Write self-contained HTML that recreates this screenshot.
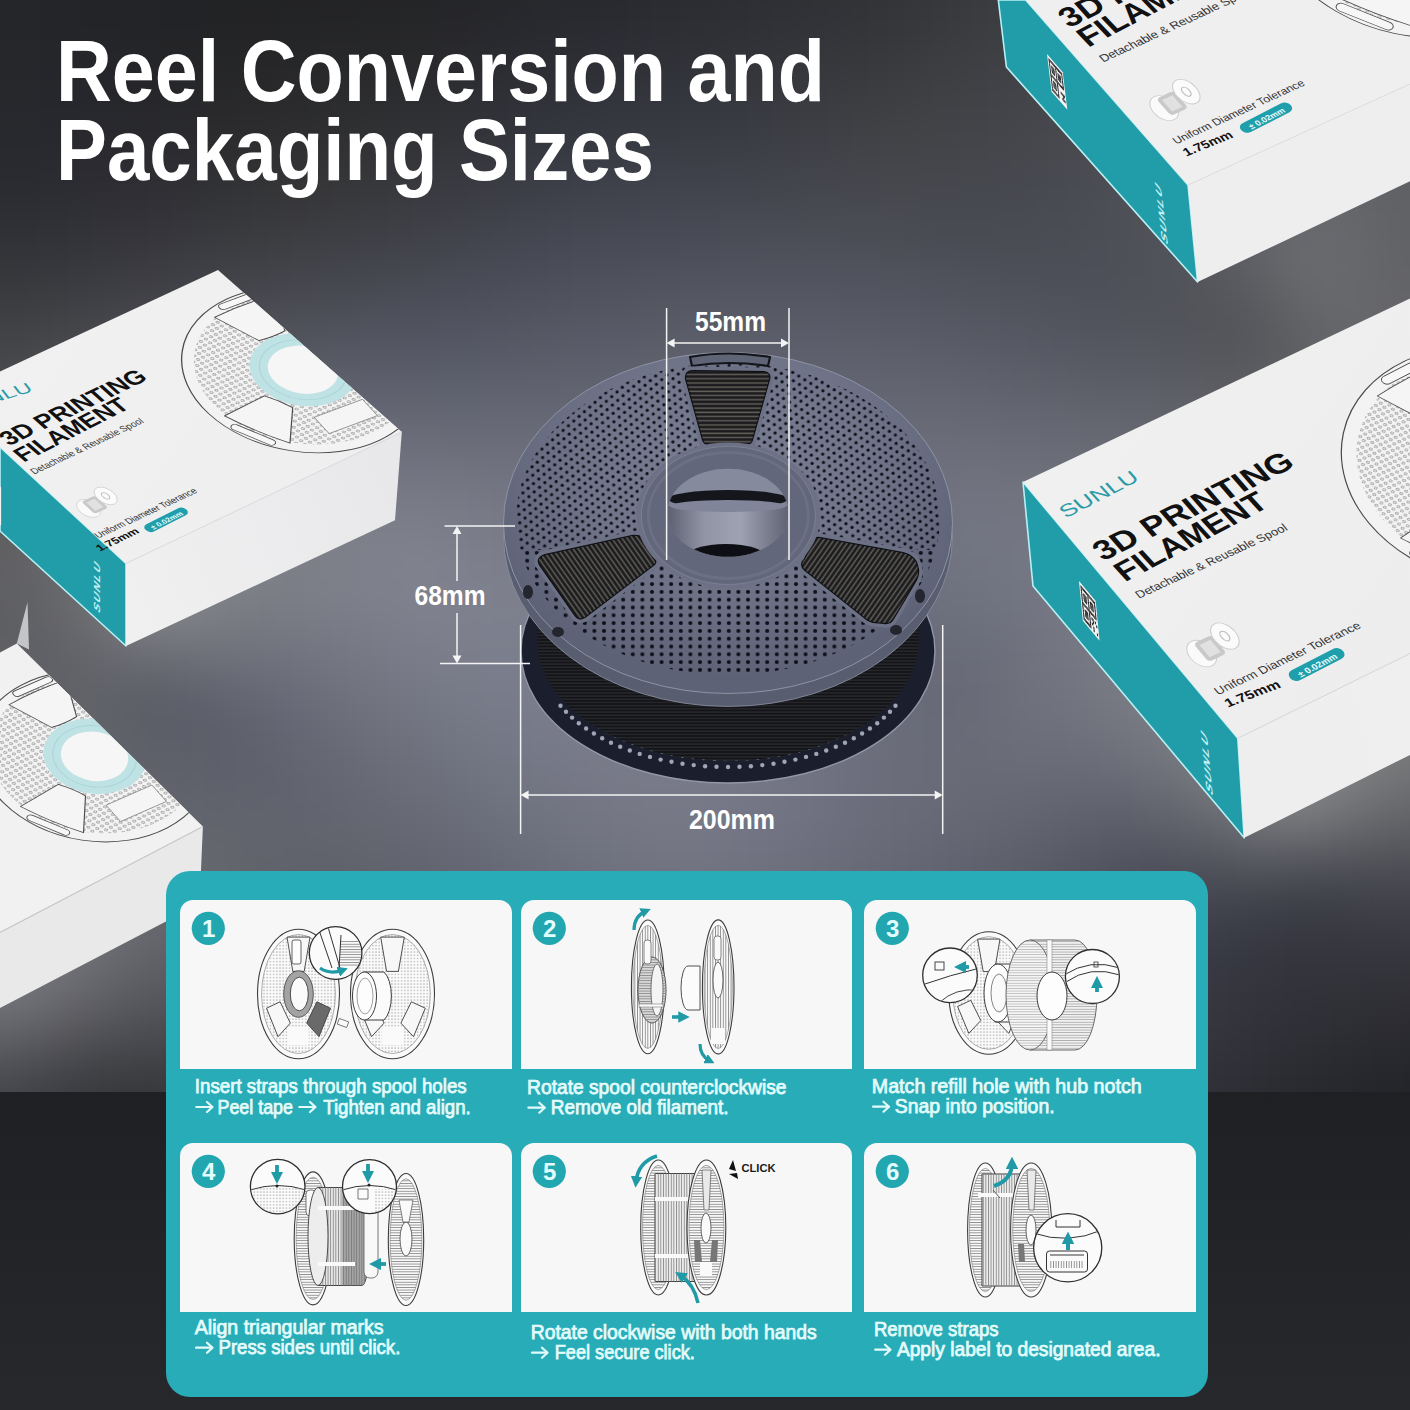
<!DOCTYPE html><html><head><meta charset="utf-8"><style>html,body{margin:0;padding:0;background:#1e2024;overflow:hidden}svg{display:block}</style></head><body>
<svg xmlns="http://www.w3.org/2000/svg" width="1410" height="1410" viewBox="0 0 1410 1410" font-family="Liberation Sans, sans-serif">
<defs>
<linearGradient id="bgv" x1="0" y1="0" x2="0" y2="1410" gradientUnits="userSpaceOnUse">
<stop offset="0" stop-color="#2a2c31"/>
<stop offset="0.12" stop-color="#303237"/>
<stop offset="0.25" stop-color="#45474e"/>
<stop offset="0.45" stop-color="#5a5d66"/>
<stop offset="0.6" stop-color="#5c5f68"/>
<stop offset="0.77" stop-color="#45474e"/>
</linearGradient>
<radialGradient id="glowc" cx="700" cy="620" r="560" gradientUnits="userSpaceOnUse">
<stop offset="0" stop-color="#72757f" stop-opacity="0.75"/>
<stop offset="1" stop-color="#72757f" stop-opacity="0"/>
</radialGradient>
<radialGradient id="darkR" cx="1410" cy="980" r="440" gradientUnits="userSpaceOnUse">
<stop offset="0" stop-color="#25272c" stop-opacity="0.85"/>
<stop offset="1" stop-color="#25272c" stop-opacity="0"/>
</radialGradient>
<radialGradient id="darkTL" cx="0" cy="0" r="750" gradientUnits="userSpaceOnUse">
<stop offset="0" stop-color="#1f2125" stop-opacity="0.6"/>
<stop offset="1" stop-color="#1f2125" stop-opacity="0"/>
</radialGradient>
<linearGradient id="topface" x1="0" y1="0" x2="1" y2="1">
<stop offset="0" stop-color="#f5f5f6"/><stop offset="1" stop-color="#ebebec"/>
</linearGradient>
<linearGradient id="frontface" x1="0" y1="0" x2="1" y2="0">
<stop offset="0" stop-color="#e8e8e9"/><stop offset="1" stop-color="#dfe0e1"/>
</linearGradient>
<pattern id="spooldots" x="0" y="0" width="11" height="9" patternUnits="userSpaceOnUse">
<circle cx="3" cy="3" r="2.1" fill="#23252e"/>
</pattern>
<pattern id="bdots" x="0" y="0" width="12" height="12" patternUnits="userSpaceOnUse">
<circle cx="4" cy="4" r="2.2" fill="#8d909c"/>
</pattern>
<pattern id="flines" x="0" y="0" width="6" height="4" patternUnits="userSpaceOnUse">
<rect width="6" height="1.5" fill="#55544f"/>
</pattern>
<pattern id="ldots" x="0" y="0" width="4" height="4" patternUnits="userSpaceOnUse">
<circle cx="2" cy="2" r="0.9" fill="#9c9c9c"/>
</pattern>
<pattern id="hatch" x="0" y="0" width="3" height="3" patternUnits="userSpaceOnUse">
<rect width="3" height="1" fill="#8c8c8c"/>
</pattern>
<pattern id="vhatch" x="0" y="0" width="3" height="3" patternUnits="userSpaceOnUse">
<rect width="1" height="3" fill="#8c8c8c"/>
</pattern>

</defs>
<defs><filter id="bgblur" filterUnits="userSpaceOnUse" x="-200" y="-200" width="1810" height="1500" color-interpolation-filters="sRGB"><feGaussianBlur stdDeviation="22"/></filter></defs>
<rect width="1410" height="1410" fill="#3a3c42"/>
<g filter="url(#bgblur)" shape-rendering="crispEdges"><rect x="-120" y="-120" width="41" height="41" fill="#232529"/><rect x="-80" y="-120" width="41" height="41" fill="#232529"/><rect x="-40" y="-120" width="41" height="41" fill="#232529"/><rect x="0" y="-120" width="41" height="41" fill="#232529"/><rect x="40" y="-120" width="41" height="41" fill="#222428"/><rect x="80" y="-120" width="41" height="41" fill="#222327"/><rect x="120" y="-120" width="41" height="41" fill="#212326"/><rect x="160" y="-120" width="41" height="41" fill="#212225"/><rect x="200" y="-120" width="41" height="41" fill="#212224"/><rect x="240" y="-120" width="41" height="41" fill="#212224"/><rect x="280" y="-120" width="41" height="41" fill="#222224"/><rect x="320" y="-120" width="41" height="41" fill="#222324"/><rect x="360" y="-120" width="41" height="41" fill="#232325"/><rect x="400" y="-120" width="41" height="41" fill="#232426"/><rect x="440" y="-120" width="41" height="41" fill="#242528"/><rect x="480" y="-120" width="41" height="41" fill="#252629"/><rect x="520" y="-120" width="41" height="41" fill="#26272b"/><rect x="560" y="-120" width="41" height="41" fill="#27282d"/><rect x="600" y="-120" width="41" height="41" fill="#28292e"/><rect x="640" y="-120" width="41" height="41" fill="#292b30"/><rect x="680" y="-120" width="41" height="41" fill="#2b2c31"/><rect x="720" y="-120" width="41" height="41" fill="#2c2d32"/><rect x="760" y="-120" width="41" height="41" fill="#2e2f33"/><rect x="800" y="-120" width="41" height="41" fill="#2f3135"/><rect x="840" y="-120" width="41" height="41" fill="#313236"/><rect x="880" y="-120" width="41" height="41" fill="#333438"/><rect x="920" y="-120" width="41" height="41" fill="#36373b"/><rect x="960" y="-120" width="41" height="41" fill="#393a3e"/><rect x="1000" y="-120" width="41" height="41" fill="#3c3d41"/><rect x="1040" y="-120" width="41" height="41" fill="#3f4045"/><rect x="1080" y="-120" width="41" height="41" fill="#434448"/><rect x="1120" y="-120" width="41" height="41" fill="#46474c"/><rect x="1160" y="-120" width="41" height="41" fill="#4a4b4f"/><rect x="1200" y="-120" width="41" height="41" fill="#4d4e52"/><rect x="1240" y="-120" width="41" height="41" fill="#505155"/><rect x="1280" y="-120" width="41" height="41" fill="#525357"/><rect x="1320" y="-120" width="41" height="41" fill="#535459"/><rect x="1360" y="-120" width="41" height="41" fill="#545559"/><rect x="1400" y="-120" width="41" height="41" fill="#545559"/><rect x="1440" y="-120" width="41" height="41" fill="#545559"/><rect x="1480" y="-120" width="41" height="41" fill="#545559"/><rect x="1520" y="-120" width="41" height="41" fill="#545559"/><rect x="-120" y="-80" width="41" height="41" fill="#232529"/><rect x="-80" y="-80" width="41" height="41" fill="#232529"/><rect x="-40" y="-80" width="41" height="41" fill="#232529"/><rect x="0" y="-80" width="41" height="41" fill="#232529"/><rect x="40" y="-80" width="41" height="41" fill="#222428"/><rect x="80" y="-80" width="41" height="41" fill="#222327"/><rect x="120" y="-80" width="41" height="41" fill="#212326"/><rect x="160" y="-80" width="41" height="41" fill="#212225"/><rect x="200" y="-80" width="41" height="41" fill="#212224"/><rect x="240" y="-80" width="41" height="41" fill="#212224"/><rect x="280" y="-80" width="41" height="41" fill="#222224"/><rect x="320" y="-80" width="41" height="41" fill="#222324"/><rect x="360" y="-80" width="41" height="41" fill="#232325"/><rect x="400" y="-80" width="41" height="41" fill="#232426"/><rect x="440" y="-80" width="41" height="41" fill="#242528"/><rect x="480" y="-80" width="41" height="41" fill="#252629"/><rect x="520" y="-80" width="41" height="41" fill="#26272b"/><rect x="560" y="-80" width="41" height="41" fill="#27282d"/><rect x="600" y="-80" width="41" height="41" fill="#28292e"/><rect x="640" y="-80" width="41" height="41" fill="#292b30"/><rect x="680" y="-80" width="41" height="41" fill="#2b2c31"/><rect x="720" y="-80" width="41" height="41" fill="#2c2d32"/><rect x="760" y="-80" width="41" height="41" fill="#2e2f33"/><rect x="800" y="-80" width="41" height="41" fill="#2f3135"/><rect x="840" y="-80" width="41" height="41" fill="#313236"/><rect x="880" y="-80" width="41" height="41" fill="#333438"/><rect x="920" y="-80" width="41" height="41" fill="#36373b"/><rect x="960" y="-80" width="41" height="41" fill="#393a3e"/><rect x="1000" y="-80" width="41" height="41" fill="#3c3d41"/><rect x="1040" y="-80" width="41" height="41" fill="#3f4045"/><rect x="1080" y="-80" width="41" height="41" fill="#434448"/><rect x="1120" y="-80" width="41" height="41" fill="#46474c"/><rect x="1160" y="-80" width="41" height="41" fill="#4a4b4f"/><rect x="1200" y="-80" width="41" height="41" fill="#4d4e52"/><rect x="1240" y="-80" width="41" height="41" fill="#505155"/><rect x="1280" y="-80" width="41" height="41" fill="#525357"/><rect x="1320" y="-80" width="41" height="41" fill="#535459"/><rect x="1360" y="-80" width="41" height="41" fill="#545559"/><rect x="1400" y="-80" width="41" height="41" fill="#545559"/><rect x="1440" y="-80" width="41" height="41" fill="#545559"/><rect x="1480" y="-80" width="41" height="41" fill="#545559"/><rect x="1520" y="-80" width="41" height="41" fill="#545559"/><rect x="-120" y="-40" width="41" height="41" fill="#232529"/><rect x="-80" y="-40" width="41" height="41" fill="#232529"/><rect x="-40" y="-40" width="41" height="41" fill="#232529"/><rect x="0" y="-40" width="41" height="41" fill="#232529"/><rect x="40" y="-40" width="41" height="41" fill="#222428"/><rect x="80" y="-40" width="41" height="41" fill="#222327"/><rect x="120" y="-40" width="41" height="41" fill="#212326"/><rect x="160" y="-40" width="41" height="41" fill="#212225"/><rect x="200" y="-40" width="41" height="41" fill="#212224"/><rect x="240" y="-40" width="41" height="41" fill="#212224"/><rect x="280" y="-40" width="41" height="41" fill="#222224"/><rect x="320" y="-40" width="41" height="41" fill="#222324"/><rect x="360" y="-40" width="41" height="41" fill="#232325"/><rect x="400" y="-40" width="41" height="41" fill="#232426"/><rect x="440" y="-40" width="41" height="41" fill="#242528"/><rect x="480" y="-40" width="41" height="41" fill="#252629"/><rect x="520" y="-40" width="41" height="41" fill="#26272b"/><rect x="560" y="-40" width="41" height="41" fill="#27282d"/><rect x="600" y="-40" width="41" height="41" fill="#28292e"/><rect x="640" y="-40" width="41" height="41" fill="#292b30"/><rect x="680" y="-40" width="41" height="41" fill="#2b2c31"/><rect x="720" y="-40" width="41" height="41" fill="#2c2d32"/><rect x="760" y="-40" width="41" height="41" fill="#2e2f33"/><rect x="800" y="-40" width="41" height="41" fill="#2f3135"/><rect x="840" y="-40" width="41" height="41" fill="#313236"/><rect x="880" y="-40" width="41" height="41" fill="#333438"/><rect x="920" y="-40" width="41" height="41" fill="#36373b"/><rect x="960" y="-40" width="41" height="41" fill="#393a3e"/><rect x="1000" y="-40" width="41" height="41" fill="#3c3d41"/><rect x="1040" y="-40" width="41" height="41" fill="#3f4045"/><rect x="1080" y="-40" width="41" height="41" fill="#434448"/><rect x="1120" y="-40" width="41" height="41" fill="#46474c"/><rect x="1160" y="-40" width="41" height="41" fill="#4a4b4f"/><rect x="1200" y="-40" width="41" height="41" fill="#4d4e52"/><rect x="1240" y="-40" width="41" height="41" fill="#505155"/><rect x="1280" y="-40" width="41" height="41" fill="#525357"/><rect x="1320" y="-40" width="41" height="41" fill="#535459"/><rect x="1360" y="-40" width="41" height="41" fill="#545559"/><rect x="1400" y="-40" width="41" height="41" fill="#545559"/><rect x="1440" y="-40" width="41" height="41" fill="#545559"/><rect x="1480" y="-40" width="41" height="41" fill="#545559"/><rect x="1520" y="-40" width="41" height="41" fill="#545559"/><rect x="-120" y="0" width="41" height="41" fill="#24262a"/><rect x="-80" y="0" width="41" height="41" fill="#24262a"/><rect x="-40" y="0" width="41" height="41" fill="#24262a"/><rect x="0" y="0" width="41" height="41" fill="#24262a"/><rect x="40" y="0" width="41" height="41" fill="#232529"/><rect x="80" y="0" width="41" height="41" fill="#232428"/><rect x="120" y="0" width="41" height="41" fill="#222427"/><rect x="160" y="0" width="41" height="41" fill="#222326"/><rect x="200" y="0" width="41" height="41" fill="#222325"/><rect x="240" y="0" width="41" height="41" fill="#232325"/><rect x="280" y="0" width="41" height="41" fill="#232425"/><rect x="320" y="0" width="41" height="41" fill="#242426"/><rect x="360" y="0" width="41" height="41" fill="#242527"/><rect x="400" y="0" width="41" height="41" fill="#252628"/><rect x="440" y="0" width="41" height="41" fill="#26262a"/><rect x="480" y="0" width="41" height="41" fill="#26272c"/><rect x="520" y="0" width="41" height="41" fill="#27292d"/><rect x="560" y="0" width="41" height="41" fill="#292a2f"/><rect x="600" y="0" width="41" height="41" fill="#2a2b31"/><rect x="640" y="0" width="41" height="41" fill="#2b2d32"/><rect x="680" y="0" width="41" height="41" fill="#2c2e33"/><rect x="720" y="0" width="41" height="41" fill="#2e2f34"/><rect x="760" y="0" width="41" height="41" fill="#303135"/><rect x="800" y="0" width="41" height="41" fill="#313237"/><rect x="840" y="0" width="41" height="41" fill="#333438"/><rect x="880" y="0" width="41" height="41" fill="#35363a"/><rect x="920" y="0" width="41" height="41" fill="#38393d"/><rect x="960" y="0" width="41" height="41" fill="#3b3c40"/><rect x="1000" y="0" width="41" height="41" fill="#3e3f43"/><rect x="1040" y="0" width="41" height="41" fill="#414246"/><rect x="1080" y="0" width="41" height="41" fill="#44454a"/><rect x="1120" y="0" width="41" height="41" fill="#47494d"/><rect x="1160" y="0" width="41" height="41" fill="#4b4c51"/><rect x="1200" y="0" width="41" height="41" fill="#4e5054"/><rect x="1240" y="0" width="41" height="41" fill="#515357"/><rect x="1280" y="0" width="41" height="41" fill="#535559"/><rect x="1320" y="0" width="41" height="41" fill="#55565a"/><rect x="1360" y="0" width="41" height="41" fill="#55565b"/><rect x="1400" y="0" width="41" height="41" fill="#55565b"/><rect x="1440" y="0" width="41" height="41" fill="#55565b"/><rect x="1480" y="0" width="41" height="41" fill="#55565b"/><rect x="1520" y="0" width="41" height="41" fill="#55565b"/><rect x="-120" y="40" width="41" height="41" fill="#25272b"/><rect x="-80" y="40" width="41" height="41" fill="#25272b"/><rect x="-40" y="40" width="41" height="41" fill="#25272b"/><rect x="0" y="40" width="41" height="41" fill="#25272b"/><rect x="40" y="40" width="41" height="41" fill="#25262a"/><rect x="80" y="40" width="41" height="41" fill="#25262a"/><rect x="120" y="40" width="41" height="41" fill="#242529"/><rect x="160" y="40" width="41" height="41" fill="#252528"/><rect x="200" y="40" width="41" height="41" fill="#252628"/><rect x="240" y="40" width="41" height="41" fill="#262628"/><rect x="280" y="40" width="41" height="41" fill="#262728"/><rect x="320" y="40" width="41" height="41" fill="#272829"/><rect x="360" y="40" width="41" height="41" fill="#28282a"/><rect x="400" y="40" width="41" height="41" fill="#29292c"/><rect x="440" y="40" width="41" height="41" fill="#2a2a2e"/><rect x="480" y="40" width="41" height="41" fill="#2a2c30"/><rect x="520" y="40" width="41" height="41" fill="#2c2d32"/><rect x="560" y="40" width="41" height="41" fill="#2d2e34"/><rect x="600" y="40" width="41" height="41" fill="#2e3036"/><rect x="640" y="40" width="41" height="41" fill="#2f3137"/><rect x="680" y="40" width="41" height="41" fill="#303238"/><rect x="720" y="40" width="41" height="41" fill="#323439"/><rect x="760" y="40" width="41" height="41" fill="#34353a"/><rect x="800" y="40" width="41" height="41" fill="#36373b"/><rect x="840" y="40" width="41" height="41" fill="#37383c"/><rect x="880" y="40" width="41" height="41" fill="#393a3e"/><rect x="920" y="40" width="41" height="41" fill="#3c3d40"/><rect x="960" y="40" width="41" height="41" fill="#3e3f43"/><rect x="1000" y="40" width="41" height="41" fill="#404246"/><rect x="1040" y="40" width="41" height="41" fill="#434449"/><rect x="1080" y="40" width="41" height="41" fill="#46484d"/><rect x="1120" y="40" width="41" height="41" fill="#4a4b50"/><rect x="1160" y="40" width="41" height="41" fill="#4e4f54"/><rect x="1200" y="40" width="41" height="41" fill="#525358"/><rect x="1240" y="40" width="41" height="41" fill="#55565b"/><rect x="1280" y="40" width="41" height="41" fill="#57585d"/><rect x="1320" y="40" width="41" height="41" fill="#58595e"/><rect x="1360" y="40" width="41" height="41" fill="#585a5e"/><rect x="1400" y="40" width="41" height="41" fill="#58595d"/><rect x="1440" y="40" width="41" height="41" fill="#58595d"/><rect x="1480" y="40" width="41" height="41" fill="#58595d"/><rect x="1520" y="40" width="41" height="41" fill="#58595d"/><rect x="-120" y="80" width="41" height="41" fill="#26282d"/><rect x="-80" y="80" width="41" height="41" fill="#26282d"/><rect x="-40" y="80" width="41" height="41" fill="#26282d"/><rect x="0" y="80" width="41" height="41" fill="#26282c"/><rect x="40" y="80" width="41" height="41" fill="#26272c"/><rect x="80" y="80" width="41" height="41" fill="#26272c"/><rect x="120" y="80" width="41" height="41" fill="#27272b"/><rect x="160" y="80" width="41" height="41" fill="#27282b"/><rect x="200" y="80" width="41" height="41" fill="#28282b"/><rect x="240" y="80" width="41" height="41" fill="#29292b"/><rect x="280" y="80" width="41" height="41" fill="#2a2a2c"/><rect x="320" y="80" width="41" height="41" fill="#2b2c2d"/><rect x="360" y="80" width="41" height="41" fill="#2c2d2f"/><rect x="400" y="80" width="41" height="41" fill="#2d2e31"/><rect x="440" y="80" width="41" height="41" fill="#2e2f33"/><rect x="480" y="80" width="41" height="41" fill="#2f3036"/><rect x="520" y="80" width="41" height="41" fill="#303238"/><rect x="560" y="80" width="41" height="41" fill="#31333a"/><rect x="600" y="80" width="41" height="41" fill="#33343c"/><rect x="640" y="80" width="41" height="41" fill="#34363d"/><rect x="680" y="80" width="41" height="41" fill="#35373e"/><rect x="720" y="80" width="41" height="41" fill="#36383f"/><rect x="760" y="80" width="41" height="41" fill="#383a3f"/><rect x="800" y="80" width="41" height="41" fill="#3a3b40"/><rect x="840" y="80" width="41" height="41" fill="#3c3d41"/><rect x="880" y="80" width="41" height="41" fill="#3e3f42"/><rect x="920" y="80" width="41" height="41" fill="#404144"/><rect x="960" y="80" width="41" height="41" fill="#414247"/><rect x="1000" y="80" width="41" height="41" fill="#434449"/><rect x="1040" y="80" width="41" height="41" fill="#45474c"/><rect x="1080" y="80" width="41" height="41" fill="#484a4f"/><rect x="1120" y="80" width="41" height="41" fill="#4c4e53"/><rect x="1160" y="80" width="41" height="41" fill="#505257"/><rect x="1200" y="80" width="41" height="41" fill="#55565b"/><rect x="1240" y="80" width="41" height="41" fill="#585a5f"/><rect x="1280" y="80" width="41" height="41" fill="#5b5c61"/><rect x="1320" y="80" width="41" height="41" fill="#5c5d62"/><rect x="1360" y="80" width="41" height="41" fill="#5b5d61"/><rect x="1400" y="80" width="41" height="41" fill="#5b5c60"/><rect x="1440" y="80" width="41" height="41" fill="#5b5c60"/><rect x="1480" y="80" width="41" height="41" fill="#5b5c60"/><rect x="1520" y="80" width="41" height="41" fill="#5b5c60"/><rect x="-120" y="120" width="41" height="41" fill="#28292e"/><rect x="-80" y="120" width="41" height="41" fill="#28292e"/><rect x="-40" y="120" width="41" height="41" fill="#28292e"/><rect x="0" y="120" width="41" height="41" fill="#28292e"/><rect x="40" y="120" width="41" height="41" fill="#28292e"/><rect x="80" y="120" width="41" height="41" fill="#29292e"/><rect x="120" y="120" width="41" height="41" fill="#292a2e"/><rect x="160" y="120" width="41" height="41" fill="#2b2b2f"/><rect x="200" y="120" width="41" height="41" fill="#2c2c2f"/><rect x="240" y="120" width="41" height="41" fill="#2d2d30"/><rect x="280" y="120" width="41" height="41" fill="#2f2f31"/><rect x="320" y="120" width="41" height="41" fill="#303032"/><rect x="360" y="120" width="41" height="41" fill="#313234"/><rect x="400" y="120" width="41" height="41" fill="#323336"/><rect x="440" y="120" width="41" height="41" fill="#333439"/><rect x="480" y="120" width="41" height="41" fill="#34353c"/><rect x="520" y="120" width="41" height="41" fill="#35373f"/><rect x="560" y="120" width="41" height="41" fill="#373941"/><rect x="600" y="120" width="41" height="41" fill="#383a42"/><rect x="640" y="120" width="41" height="41" fill="#393b44"/><rect x="680" y="120" width="41" height="41" fill="#3a3c44"/><rect x="720" y="120" width="41" height="41" fill="#3b3d45"/><rect x="760" y="120" width="41" height="41" fill="#3d3f45"/><rect x="800" y="120" width="41" height="41" fill="#3f4046"/><rect x="840" y="120" width="41" height="41" fill="#414246"/><rect x="880" y="120" width="41" height="41" fill="#424347"/><rect x="920" y="120" width="41" height="41" fill="#434448"/><rect x="960" y="120" width="41" height="41" fill="#44454a"/><rect x="1000" y="120" width="41" height="41" fill="#45474c"/><rect x="1040" y="120" width="41" height="41" fill="#47494e"/><rect x="1080" y="120" width="41" height="41" fill="#4a4c51"/><rect x="1120" y="120" width="41" height="41" fill="#4e4f55"/><rect x="1160" y="120" width="41" height="41" fill="#525459"/><rect x="1200" y="120" width="41" height="41" fill="#58595e"/><rect x="1240" y="120" width="41" height="41" fill="#5c5d62"/><rect x="1280" y="120" width="41" height="41" fill="#5f6065"/><rect x="1320" y="120" width="41" height="41" fill="#606165"/><rect x="1360" y="120" width="41" height="41" fill="#5e6064"/><rect x="1400" y="120" width="41" height="41" fill="#5d5e63"/><rect x="1440" y="120" width="41" height="41" fill="#5d5e63"/><rect x="1480" y="120" width="41" height="41" fill="#5d5e63"/><rect x="1520" y="120" width="41" height="41" fill="#5d5e63"/><rect x="-120" y="160" width="41" height="41" fill="#2a2b30"/><rect x="-80" y="160" width="41" height="41" fill="#2a2b30"/><rect x="-40" y="160" width="41" height="41" fill="#2a2b30"/><rect x="0" y="160" width="41" height="41" fill="#2a2b30"/><rect x="40" y="160" width="41" height="41" fill="#2b2c31"/><rect x="80" y="160" width="41" height="41" fill="#2c2c32"/><rect x="120" y="160" width="41" height="41" fill="#2d2d33"/><rect x="160" y="160" width="41" height="41" fill="#2f2f33"/><rect x="200" y="160" width="41" height="41" fill="#303134"/><rect x="240" y="160" width="41" height="41" fill="#323335"/><rect x="280" y="160" width="41" height="41" fill="#343436"/><rect x="320" y="160" width="41" height="41" fill="#353638"/><rect x="360" y="160" width="41" height="41" fill="#36373a"/><rect x="400" y="160" width="41" height="41" fill="#38383d"/><rect x="440" y="160" width="41" height="41" fill="#393a40"/><rect x="480" y="160" width="41" height="41" fill="#3a3b43"/><rect x="520" y="160" width="41" height="41" fill="#3b3d46"/><rect x="560" y="160" width="41" height="41" fill="#3c3f48"/><rect x="600" y="160" width="41" height="41" fill="#3e4049"/><rect x="640" y="160" width="41" height="41" fill="#3f414b"/><rect x="680" y="160" width="41" height="41" fill="#40424b"/><rect x="720" y="160" width="41" height="41" fill="#41434c"/><rect x="760" y="160" width="41" height="41" fill="#42444c"/><rect x="800" y="160" width="41" height="41" fill="#44454c"/><rect x="840" y="160" width="41" height="41" fill="#45464c"/><rect x="880" y="160" width="41" height="41" fill="#46474c"/><rect x="920" y="160" width="41" height="41" fill="#46474d"/><rect x="960" y="160" width="41" height="41" fill="#46484e"/><rect x="1000" y="160" width="41" height="41" fill="#47484f"/><rect x="1040" y="160" width="41" height="41" fill="#484a51"/><rect x="1080" y="160" width="41" height="41" fill="#4b4d53"/><rect x="1120" y="160" width="41" height="41" fill="#4f5056"/><rect x="1160" y="160" width="41" height="41" fill="#54555b"/><rect x="1200" y="160" width="41" height="41" fill="#5a5b60"/><rect x="1240" y="160" width="41" height="41" fill="#5f6166"/><rect x="1280" y="160" width="41" height="41" fill="#636469"/><rect x="1320" y="160" width="41" height="41" fill="#636569"/><rect x="1360" y="160" width="41" height="41" fill="#616266"/><rect x="1400" y="160" width="41" height="41" fill="#5f6064"/><rect x="1440" y="160" width="41" height="41" fill="#5f6064"/><rect x="1480" y="160" width="41" height="41" fill="#5f6064"/><rect x="1520" y="160" width="41" height="41" fill="#5f6064"/><rect x="-120" y="200" width="41" height="41" fill="#2e2f34"/><rect x="-80" y="200" width="41" height="41" fill="#2e2f34"/><rect x="-40" y="200" width="41" height="41" fill="#2e2f34"/><rect x="0" y="200" width="41" height="41" fill="#2e2f34"/><rect x="40" y="200" width="41" height="41" fill="#2f3035"/><rect x="80" y="200" width="41" height="41" fill="#313137"/><rect x="120" y="200" width="41" height="41" fill="#323238"/><rect x="160" y="200" width="41" height="41" fill="#34343a"/><rect x="200" y="200" width="41" height="41" fill="#36373b"/><rect x="240" y="200" width="41" height="41" fill="#38393c"/><rect x="280" y="200" width="41" height="41" fill="#3a3a3e"/><rect x="320" y="200" width="41" height="41" fill="#3b3c40"/><rect x="360" y="200" width="41" height="41" fill="#3c3d42"/><rect x="400" y="200" width="41" height="41" fill="#3e3f45"/><rect x="440" y="200" width="41" height="41" fill="#3f4048"/><rect x="480" y="200" width="41" height="41" fill="#40424b"/><rect x="520" y="200" width="41" height="41" fill="#41444e"/><rect x="560" y="200" width="41" height="41" fill="#43464f"/><rect x="600" y="200" width="41" height="41" fill="#444751"/><rect x="640" y="200" width="41" height="41" fill="#454852"/><rect x="680" y="200" width="41" height="41" fill="#464953"/><rect x="720" y="200" width="41" height="41" fill="#474953"/><rect x="760" y="200" width="41" height="41" fill="#484a53"/><rect x="800" y="200" width="41" height="41" fill="#494b53"/><rect x="840" y="200" width="41" height="41" fill="#494b53"/><rect x="880" y="200" width="41" height="41" fill="#494b52"/><rect x="920" y="200" width="41" height="41" fill="#484a52"/><rect x="960" y="200" width="41" height="41" fill="#484a52"/><rect x="1000" y="200" width="41" height="41" fill="#494b52"/><rect x="1040" y="200" width="41" height="41" fill="#494c53"/><rect x="1080" y="200" width="41" height="41" fill="#4b4e55"/><rect x="1120" y="200" width="41" height="41" fill="#4f5157"/><rect x="1160" y="200" width="41" height="41" fill="#53555b"/><rect x="1200" y="200" width="41" height="41" fill="#5a5c61"/><rect x="1240" y="200" width="41" height="41" fill="#626368"/><rect x="1280" y="200" width="41" height="41" fill="#67686d"/><rect x="1320" y="200" width="41" height="41" fill="#67686c"/><rect x="1360" y="200" width="41" height="41" fill="#636468"/><rect x="1400" y="200" width="41" height="41" fill="#606165"/><rect x="1440" y="200" width="41" height="41" fill="#606165"/><rect x="1480" y="200" width="41" height="41" fill="#606165"/><rect x="1520" y="200" width="41" height="41" fill="#606165"/><rect x="-120" y="240" width="41" height="41" fill="#343539"/><rect x="-80" y="240" width="41" height="41" fill="#343539"/><rect x="-40" y="240" width="41" height="41" fill="#343539"/><rect x="0" y="240" width="41" height="41" fill="#343539"/><rect x="40" y="240" width="41" height="41" fill="#35363b"/><rect x="80" y="240" width="41" height="41" fill="#37383d"/><rect x="120" y="240" width="41" height="41" fill="#39393f"/><rect x="160" y="240" width="41" height="41" fill="#3b3c41"/><rect x="200" y="240" width="41" height="41" fill="#3e3e43"/><rect x="240" y="240" width="41" height="41" fill="#3f4045"/><rect x="280" y="240" width="41" height="41" fill="#414247"/><rect x="320" y="240" width="41" height="41" fill="#414349"/><rect x="360" y="240" width="41" height="41" fill="#43444c"/><rect x="400" y="240" width="41" height="41" fill="#44464e"/><rect x="440" y="240" width="41" height="41" fill="#454751"/><rect x="480" y="240" width="41" height="41" fill="#464953"/><rect x="520" y="240" width="41" height="41" fill="#484b56"/><rect x="560" y="240" width="41" height="41" fill="#4a4d57"/><rect x="600" y="240" width="41" height="41" fill="#4b4e58"/><rect x="640" y="240" width="41" height="41" fill="#4c4f59"/><rect x="680" y="240" width="41" height="41" fill="#4d505a"/><rect x="720" y="240" width="41" height="41" fill="#4e505b"/><rect x="760" y="240" width="41" height="41" fill="#4e505b"/><rect x="800" y="240" width="41" height="41" fill="#4f505b"/><rect x="840" y="240" width="41" height="41" fill="#4e505a"/><rect x="880" y="240" width="41" height="41" fill="#4e5059"/><rect x="920" y="240" width="41" height="41" fill="#4c4e58"/><rect x="960" y="240" width="41" height="41" fill="#4c4e57"/><rect x="1000" y="240" width="41" height="41" fill="#4b4e56"/><rect x="1040" y="240" width="41" height="41" fill="#4b4e56"/><rect x="1080" y="240" width="41" height="41" fill="#4c4f57"/><rect x="1120" y="240" width="41" height="41" fill="#4e5158"/><rect x="1160" y="240" width="41" height="41" fill="#52545a"/><rect x="1200" y="240" width="41" height="41" fill="#585a5f"/><rect x="1240" y="240" width="41" height="41" fill="#616367"/><rect x="1280" y="240" width="41" height="41" fill="#6a6b6f"/><rect x="1320" y="240" width="41" height="41" fill="#696a6e"/><rect x="1360" y="240" width="41" height="41" fill="#646569"/><rect x="1400" y="240" width="41" height="41" fill="#616266"/><rect x="1440" y="240" width="41" height="41" fill="#616266"/><rect x="1480" y="240" width="41" height="41" fill="#616266"/><rect x="1520" y="240" width="41" height="41" fill="#616266"/><rect x="-120" y="280" width="41" height="41" fill="#3a3b3f"/><rect x="-80" y="280" width="41" height="41" fill="#3a3b3f"/><rect x="-40" y="280" width="41" height="41" fill="#3a3b3f"/><rect x="0" y="280" width="41" height="41" fill="#3b3c40"/><rect x="40" y="280" width="41" height="41" fill="#3d3e42"/><rect x="80" y="280" width="41" height="41" fill="#3f4045"/><rect x="120" y="280" width="41" height="41" fill="#424248"/><rect x="160" y="280" width="41" height="41" fill="#44454b"/><rect x="200" y="280" width="41" height="41" fill="#46474d"/><rect x="240" y="280" width="41" height="41" fill="#484950"/><rect x="280" y="280" width="41" height="41" fill="#494a52"/><rect x="320" y="280" width="41" height="41" fill="#494b54"/><rect x="360" y="280" width="41" height="41" fill="#4a4c56"/><rect x="400" y="280" width="41" height="41" fill="#4b4d58"/><rect x="440" y="280" width="41" height="41" fill="#4c4f5a"/><rect x="480" y="280" width="41" height="41" fill="#4e505c"/><rect x="520" y="280" width="41" height="41" fill="#4f525d"/><rect x="560" y="280" width="41" height="41" fill="#51545f"/><rect x="600" y="280" width="41" height="41" fill="#525560"/><rect x="640" y="280" width="41" height="41" fill="#545661"/><rect x="680" y="280" width="41" height="41" fill="#555762"/><rect x="720" y="280" width="41" height="41" fill="#555762"/><rect x="760" y="280" width="41" height="41" fill="#555762"/><rect x="800" y="280" width="41" height="41" fill="#555763"/><rect x="840" y="280" width="41" height="41" fill="#545662"/><rect x="880" y="280" width="41" height="41" fill="#535561"/><rect x="920" y="280" width="41" height="41" fill="#52545f"/><rect x="960" y="280" width="41" height="41" fill="#51535d"/><rect x="1000" y="280" width="41" height="41" fill="#50525c"/><rect x="1040" y="280" width="41" height="41" fill="#4f515b"/><rect x="1080" y="280" width="41" height="41" fill="#4e515a"/><rect x="1120" y="280" width="41" height="41" fill="#4f5259"/><rect x="1160" y="280" width="41" height="41" fill="#515359"/><rect x="1200" y="280" width="41" height="41" fill="#54555a"/><rect x="1240" y="280" width="41" height="41" fill="#5b5c60"/><rect x="1280" y="280" width="41" height="41" fill="#65666a"/><rect x="1320" y="280" width="41" height="41" fill="#68696c"/><rect x="1360" y="280" width="41" height="41" fill="#66666a"/><rect x="1400" y="280" width="41" height="41" fill="#636468"/><rect x="1440" y="280" width="41" height="41" fill="#636468"/><rect x="1480" y="280" width="41" height="41" fill="#636468"/><rect x="1520" y="280" width="41" height="41" fill="#636468"/><rect x="-120" y="320" width="41" height="41" fill="#424346"/><rect x="-80" y="320" width="41" height="41" fill="#424346"/><rect x="-40" y="320" width="41" height="41" fill="#424346"/><rect x="0" y="320" width="41" height="41" fill="#434447"/><rect x="40" y="320" width="41" height="41" fill="#46474a"/><rect x="80" y="320" width="41" height="41" fill="#494a4e"/><rect x="120" y="320" width="41" height="41" fill="#4c4d52"/><rect x="160" y="320" width="41" height="41" fill="#4e4f55"/><rect x="200" y="320" width="41" height="41" fill="#505258"/><rect x="240" y="320" width="41" height="41" fill="#52535b"/><rect x="280" y="320" width="41" height="41" fill="#52545d"/><rect x="320" y="320" width="41" height="41" fill="#52545f"/><rect x="360" y="320" width="41" height="41" fill="#535561"/><rect x="400" y="320" width="41" height="41" fill="#535662"/><rect x="440" y="320" width="41" height="41" fill="#545763"/><rect x="480" y="320" width="41" height="41" fill="#555864"/><rect x="520" y="320" width="41" height="41" fill="#575a65"/><rect x="560" y="320" width="41" height="41" fill="#585b67"/><rect x="600" y="320" width="41" height="41" fill="#595c68"/><rect x="640" y="320" width="41" height="41" fill="#5a5d68"/><rect x="680" y="320" width="41" height="41" fill="#5b5d69"/><rect x="720" y="320" width="41" height="41" fill="#5b5d69"/><rect x="760" y="320" width="41" height="41" fill="#5b5d6a"/><rect x="800" y="320" width="41" height="41" fill="#5b5d6a"/><rect x="840" y="320" width="41" height="41" fill="#5b5d69"/><rect x="880" y="320" width="41" height="41" fill="#5a5c68"/><rect x="920" y="320" width="41" height="41" fill="#595b66"/><rect x="960" y="320" width="41" height="41" fill="#575964"/><rect x="1000" y="320" width="41" height="41" fill="#565863"/><rect x="1040" y="320" width="41" height="41" fill="#545761"/><rect x="1080" y="320" width="41" height="41" fill="#53565f"/><rect x="1120" y="320" width="41" height="41" fill="#53565e"/><rect x="1160" y="320" width="41" height="41" fill="#53555c"/><rect x="1200" y="320" width="41" height="41" fill="#535459"/><rect x="1240" y="320" width="41" height="41" fill="#56575b"/><rect x="1280" y="320" width="41" height="41" fill="#5f6064"/><rect x="1320" y="320" width="41" height="41" fill="#656669"/><rect x="1360" y="320" width="41" height="41" fill="#66676a"/><rect x="1400" y="320" width="41" height="41" fill="#656669"/><rect x="1440" y="320" width="41" height="41" fill="#656669"/><rect x="1480" y="320" width="41" height="41" fill="#656669"/><rect x="1520" y="320" width="41" height="41" fill="#656669"/><rect x="-120" y="360" width="41" height="41" fill="#494a4d"/><rect x="-80" y="360" width="41" height="41" fill="#494a4d"/><rect x="-40" y="360" width="41" height="41" fill="#494a4d"/><rect x="0" y="360" width="41" height="41" fill="#4b4c4f"/><rect x="40" y="360" width="41" height="41" fill="#4f5053"/><rect x="80" y="360" width="41" height="41" fill="#535458"/><rect x="120" y="360" width="41" height="41" fill="#56575c"/><rect x="160" y="360" width="41" height="41" fill="#595b60"/><rect x="200" y="360" width="41" height="41" fill="#5b5d64"/><rect x="240" y="360" width="41" height="41" fill="#5c5e66"/><rect x="280" y="360" width="41" height="41" fill="#5d5f68"/><rect x="320" y="360" width="41" height="41" fill="#5d5f6a"/><rect x="360" y="360" width="41" height="41" fill="#5c5f6b"/><rect x="400" y="360" width="41" height="41" fill="#5c5f6b"/><rect x="440" y="360" width="41" height="41" fill="#5c5f6c"/><rect x="480" y="360" width="41" height="41" fill="#5d606c"/><rect x="520" y="360" width="41" height="41" fill="#5e616d"/><rect x="560" y="360" width="41" height="41" fill="#5f626e"/><rect x="600" y="360" width="41" height="41" fill="#60636f"/><rect x="640" y="360" width="41" height="41" fill="#61636f"/><rect x="680" y="360" width="41" height="41" fill="#616370"/><rect x="720" y="360" width="41" height="41" fill="#616370"/><rect x="760" y="360" width="41" height="41" fill="#616370"/><rect x="800" y="360" width="41" height="41" fill="#616370"/><rect x="840" y="360" width="41" height="41" fill="#616370"/><rect x="880" y="360" width="41" height="41" fill="#61636f"/><rect x="920" y="360" width="41" height="41" fill="#60626e"/><rect x="960" y="360" width="41" height="41" fill="#5f616c"/><rect x="1000" y="360" width="41" height="41" fill="#5d5f6a"/><rect x="1040" y="360" width="41" height="41" fill="#5c5e68"/><rect x="1080" y="360" width="41" height="41" fill="#5a5d67"/><rect x="1120" y="360" width="41" height="41" fill="#5a5d65"/><rect x="1160" y="360" width="41" height="41" fill="#5a5c63"/><rect x="1200" y="360" width="41" height="41" fill="#5a5b60"/><rect x="1240" y="360" width="41" height="41" fill="#5b5c60"/><rect x="1280" y="360" width="41" height="41" fill="#606164"/><rect x="1320" y="360" width="41" height="41" fill="#656668"/><rect x="1360" y="360" width="41" height="41" fill="#67686a"/><rect x="1400" y="360" width="41" height="41" fill="#67686a"/><rect x="1440" y="360" width="41" height="41" fill="#67686a"/><rect x="1480" y="360" width="41" height="41" fill="#67686a"/><rect x="1520" y="360" width="41" height="41" fill="#67686a"/><rect x="-120" y="400" width="41" height="41" fill="#505154"/><rect x="-80" y="400" width="41" height="41" fill="#505154"/><rect x="-40" y="400" width="41" height="41" fill="#505154"/><rect x="0" y="400" width="41" height="41" fill="#525356"/><rect x="40" y="400" width="41" height="41" fill="#57585b"/><rect x="80" y="400" width="41" height="41" fill="#5c5e61"/><rect x="120" y="400" width="41" height="41" fill="#616266"/><rect x="160" y="400" width="41" height="41" fill="#64666b"/><rect x="200" y="400" width="41" height="41" fill="#66686f"/><rect x="240" y="400" width="41" height="41" fill="#676971"/><rect x="280" y="400" width="41" height="41" fill="#676a73"/><rect x="320" y="400" width="41" height="41" fill="#676974"/><rect x="360" y="400" width="41" height="41" fill="#666975"/><rect x="400" y="400" width="41" height="41" fill="#666974"/><rect x="440" y="400" width="41" height="41" fill="#656874"/><rect x="480" y="400" width="41" height="41" fill="#666975"/><rect x="520" y="400" width="41" height="41" fill="#666975"/><rect x="560" y="400" width="41" height="41" fill="#676975"/><rect x="600" y="400" width="41" height="41" fill="#676976"/><rect x="640" y="400" width="41" height="41" fill="#676976"/><rect x="680" y="400" width="41" height="41" fill="#676976"/><rect x="720" y="400" width="41" height="41" fill="#676976"/><rect x="760" y="400" width="41" height="41" fill="#676976"/><rect x="800" y="400" width="41" height="41" fill="#676976"/><rect x="840" y="400" width="41" height="41" fill="#676976"/><rect x="880" y="400" width="41" height="41" fill="#676976"/><rect x="920" y="400" width="41" height="41" fill="#676975"/><rect x="960" y="400" width="41" height="41" fill="#666874"/><rect x="1000" y="400" width="41" height="41" fill="#656872"/><rect x="1040" y="400" width="41" height="41" fill="#646671"/><rect x="1080" y="400" width="41" height="41" fill="#63666f"/><rect x="1120" y="400" width="41" height="41" fill="#62656d"/><rect x="1160" y="400" width="41" height="41" fill="#62646b"/><rect x="1200" y="400" width="41" height="41" fill="#626469"/><rect x="1240" y="400" width="41" height="41" fill="#636468"/><rect x="1280" y="400" width="41" height="41" fill="#65666a"/><rect x="1320" y="400" width="41" height="41" fill="#68696c"/><rect x="1360" y="400" width="41" height="41" fill="#6a6b6d"/><rect x="1400" y="400" width="41" height="41" fill="#6a6b6d"/><rect x="1440" y="400" width="41" height="41" fill="#6a6b6d"/><rect x="1480" y="400" width="41" height="41" fill="#6a6b6d"/><rect x="1520" y="400" width="41" height="41" fill="#6a6b6d"/><rect x="-120" y="440" width="41" height="41" fill="#56575a"/><rect x="-80" y="440" width="41" height="41" fill="#56575a"/><rect x="-40" y="440" width="41" height="41" fill="#56575a"/><rect x="0" y="440" width="41" height="41" fill="#595a5d"/><rect x="40" y="440" width="41" height="41" fill="#5f6063"/><rect x="80" y="440" width="41" height="41" fill="#65676a"/><rect x="120" y="440" width="41" height="41" fill="#6b6c70"/><rect x="160" y="440" width="41" height="41" fill="#6f7075"/><rect x="200" y="440" width="41" height="41" fill="#717379"/><rect x="240" y="440" width="41" height="41" fill="#71737b"/><rect x="280" y="440" width="41" height="41" fill="#71737c"/><rect x="320" y="440" width="41" height="41" fill="#71737d"/><rect x="360" y="440" width="41" height="41" fill="#70737e"/><rect x="400" y="440" width="41" height="41" fill="#6f727e"/><rect x="440" y="440" width="41" height="41" fill="#6f717d"/><rect x="480" y="440" width="41" height="41" fill="#6e707d"/><rect x="520" y="440" width="41" height="41" fill="#6e707c"/><rect x="560" y="440" width="41" height="41" fill="#6d707c"/><rect x="600" y="440" width="41" height="41" fill="#6d6f7c"/><rect x="640" y="440" width="41" height="41" fill="#6c6f7c"/><rect x="680" y="440" width="41" height="41" fill="#6c6e7c"/><rect x="720" y="440" width="41" height="41" fill="#6c6e7b"/><rect x="760" y="440" width="41" height="41" fill="#6b6d7b"/><rect x="800" y="440" width="41" height="41" fill="#6b6d7b"/><rect x="840" y="440" width="41" height="41" fill="#6b6e7b"/><rect x="880" y="440" width="41" height="41" fill="#6c6e7b"/><rect x="920" y="440" width="41" height="41" fill="#6d6f7c"/><rect x="960" y="440" width="41" height="41" fill="#6d707b"/><rect x="1000" y="440" width="41" height="41" fill="#6c6f7a"/><rect x="1040" y="440" width="41" height="41" fill="#6b6e78"/><rect x="1080" y="440" width="41" height="41" fill="#6a6d77"/><rect x="1120" y="440" width="41" height="41" fill="#6a6d75"/><rect x="1160" y="440" width="41" height="41" fill="#6a6c73"/><rect x="1200" y="440" width="41" height="41" fill="#6a6c72"/><rect x="1240" y="440" width="41" height="41" fill="#6b6c71"/><rect x="1280" y="440" width="41" height="41" fill="#6c6d71"/><rect x="1320" y="440" width="41" height="41" fill="#6e6e71"/><rect x="1360" y="440" width="41" height="41" fill="#6e6f71"/><rect x="1400" y="440" width="41" height="41" fill="#6e6f71"/><rect x="1440" y="440" width="41" height="41" fill="#6e6f71"/><rect x="1480" y="440" width="41" height="41" fill="#6e6f71"/><rect x="1520" y="440" width="41" height="41" fill="#6e6f71"/><rect x="-120" y="480" width="41" height="41" fill="#5b5c5e"/><rect x="-80" y="480" width="41" height="41" fill="#5b5c5e"/><rect x="-40" y="480" width="41" height="41" fill="#5b5c5e"/><rect x="0" y="480" width="41" height="41" fill="#5e5f61"/><rect x="40" y="480" width="41" height="41" fill="#656669"/><rect x="80" y="480" width="41" height="41" fill="#6d6e71"/><rect x="120" y="480" width="41" height="41" fill="#747579"/><rect x="160" y="480" width="41" height="41" fill="#787a7e"/><rect x="200" y="480" width="41" height="41" fill="#7a7b81"/><rect x="240" y="480" width="41" height="41" fill="#7a7b83"/><rect x="280" y="480" width="41" height="41" fill="#797b84"/><rect x="320" y="480" width="41" height="41" fill="#797b85"/><rect x="360" y="480" width="41" height="41" fill="#787b86"/><rect x="400" y="480" width="41" height="41" fill="#787a86"/><rect x="440" y="480" width="41" height="41" fill="#777985"/><rect x="480" y="480" width="41" height="41" fill="#757784"/><rect x="520" y="480" width="41" height="41" fill="#747683"/><rect x="560" y="480" width="41" height="41" fill="#737582"/><rect x="600" y="480" width="41" height="41" fill="#727482"/><rect x="640" y="480" width="41" height="41" fill="#717381"/><rect x="680" y="480" width="41" height="41" fill="#707280"/><rect x="720" y="480" width="41" height="41" fill="#6f7180"/><rect x="760" y="480" width="41" height="41" fill="#6f717f"/><rect x="800" y="480" width="41" height="41" fill="#6e717f"/><rect x="840" y="480" width="41" height="41" fill="#6e717e"/><rect x="880" y="480" width="41" height="41" fill="#6f727f"/><rect x="920" y="480" width="41" height="41" fill="#717380"/><rect x="960" y="480" width="41" height="41" fill="#727581"/><rect x="1000" y="480" width="41" height="41" fill="#727580"/><rect x="1040" y="480" width="41" height="41" fill="#71747f"/><rect x="1080" y="480" width="41" height="41" fill="#71747d"/><rect x="1120" y="480" width="41" height="41" fill="#71747c"/><rect x="1160" y="480" width="41" height="41" fill="#71747b"/><rect x="1200" y="480" width="41" height="41" fill="#72747a"/><rect x="1240" y="480" width="41" height="41" fill="#737479"/><rect x="1280" y="480" width="41" height="41" fill="#737578"/><rect x="1320" y="480" width="41" height="41" fill="#747577"/><rect x="1360" y="480" width="41" height="41" fill="#747476"/><rect x="1400" y="480" width="41" height="41" fill="#737375"/><rect x="1440" y="480" width="41" height="41" fill="#737375"/><rect x="1480" y="480" width="41" height="41" fill="#737375"/><rect x="1520" y="480" width="41" height="41" fill="#737375"/><rect x="-120" y="520" width="41" height="41" fill="#5e5e61"/><rect x="-80" y="520" width="41" height="41" fill="#5e5e61"/><rect x="-40" y="520" width="41" height="41" fill="#5e5e61"/><rect x="0" y="520" width="41" height="41" fill="#616164"/><rect x="40" y="520" width="41" height="41" fill="#68696c"/><rect x="80" y="520" width="41" height="41" fill="#727376"/><rect x="120" y="520" width="41" height="41" fill="#7b7c7f"/><rect x="160" y="520" width="41" height="41" fill="#7f8185"/><rect x="200" y="520" width="41" height="41" fill="#808187"/><rect x="240" y="520" width="41" height="41" fill="#7e8087"/><rect x="280" y="520" width="41" height="41" fill="#7d7f88"/><rect x="320" y="520" width="41" height="41" fill="#7d7f89"/><rect x="360" y="520" width="41" height="41" fill="#7e808b"/><rect x="400" y="520" width="41" height="41" fill="#7e808c"/><rect x="440" y="520" width="41" height="41" fill="#7c7e8a"/><rect x="480" y="520" width="41" height="41" fill="#7a7c89"/><rect x="520" y="520" width="41" height="41" fill="#797b88"/><rect x="560" y="520" width="41" height="41" fill="#777987"/><rect x="600" y="520" width="41" height="41" fill="#767886"/><rect x="640" y="520" width="41" height="41" fill="#757785"/><rect x="680" y="520" width="41" height="41" fill="#737684"/><rect x="720" y="520" width="41" height="41" fill="#727483"/><rect x="760" y="520" width="41" height="41" fill="#717381"/><rect x="800" y="520" width="41" height="41" fill="#707281"/><rect x="840" y="520" width="41" height="41" fill="#707280"/><rect x="880" y="520" width="41" height="41" fill="#707380"/><rect x="920" y="520" width="41" height="41" fill="#717481"/><rect x="960" y="520" width="41" height="41" fill="#737682"/><rect x="1000" y="520" width="41" height="41" fill="#747783"/><rect x="1040" y="520" width="41" height="41" fill="#747782"/><rect x="1080" y="520" width="41" height="41" fill="#757882"/><rect x="1120" y="520" width="41" height="41" fill="#767982"/><rect x="1160" y="520" width="41" height="41" fill="#787a81"/><rect x="1200" y="520" width="41" height="41" fill="#797b81"/><rect x="1240" y="520" width="41" height="41" fill="#7a7c80"/><rect x="1280" y="520" width="41" height="41" fill="#7b7c7f"/><rect x="1320" y="520" width="41" height="41" fill="#7a7b7e"/><rect x="1360" y="520" width="41" height="41" fill="#797a7c"/><rect x="1400" y="520" width="41" height="41" fill="#77787a"/><rect x="1440" y="520" width="41" height="41" fill="#77787a"/><rect x="1480" y="520" width="41" height="41" fill="#77787a"/><rect x="1520" y="520" width="41" height="41" fill="#77787a"/><rect x="-120" y="560" width="41" height="41" fill="#5e5f62"/><rect x="-80" y="560" width="41" height="41" fill="#5e5f62"/><rect x="-40" y="560" width="41" height="41" fill="#5e5f62"/><rect x="0" y="560" width="41" height="41" fill="#616165"/><rect x="40" y="560" width="41" height="41" fill="#68696c"/><rect x="80" y="560" width="41" height="41" fill="#747578"/><rect x="120" y="560" width="41" height="41" fill="#7f8084"/><rect x="160" y="560" width="41" height="41" fill="#838589"/><rect x="200" y="560" width="41" height="41" fill="#818389"/><rect x="240" y="560" width="41" height="41" fill="#7e8088"/><rect x="280" y="560" width="41" height="41" fill="#7d7f88"/><rect x="320" y="560" width="41" height="41" fill="#7e808a"/><rect x="360" y="560" width="41" height="41" fill="#7f818d"/><rect x="400" y="560" width="41" height="41" fill="#80828e"/><rect x="440" y="560" width="41" height="41" fill="#7f818e"/><rect x="480" y="560" width="41" height="41" fill="#7d7f8c"/><rect x="520" y="560" width="41" height="41" fill="#7c7e8b"/><rect x="560" y="560" width="41" height="41" fill="#7a7c8a"/><rect x="600" y="560" width="41" height="41" fill="#797b89"/><rect x="640" y="560" width="41" height="41" fill="#777988"/><rect x="680" y="560" width="41" height="41" fill="#767887"/><rect x="720" y="560" width="41" height="41" fill="#747685"/><rect x="760" y="560" width="41" height="41" fill="#727483"/><rect x="800" y="560" width="41" height="41" fill="#707381"/><rect x="840" y="560" width="41" height="41" fill="#6f7280"/><rect x="880" y="560" width="41" height="41" fill="#6e717f"/><rect x="920" y="560" width="41" height="41" fill="#6f727f"/><rect x="960" y="560" width="41" height="41" fill="#717481"/><rect x="1000" y="560" width="41" height="41" fill="#737683"/><rect x="1040" y="560" width="41" height="41" fill="#757884"/><rect x="1080" y="560" width="41" height="41" fill="#787b85"/><rect x="1120" y="560" width="41" height="41" fill="#7a7d85"/><rect x="1160" y="560" width="41" height="41" fill="#7d7f86"/><rect x="1200" y="560" width="41" height="41" fill="#7f8186"/><rect x="1240" y="560" width="41" height="41" fill="#808286"/><rect x="1280" y="560" width="41" height="41" fill="#818285"/><rect x="1320" y="560" width="41" height="41" fill="#808183"/><rect x="1360" y="560" width="41" height="41" fill="#7e7e80"/><rect x="1400" y="560" width="41" height="41" fill="#7b7c7d"/><rect x="1440" y="560" width="41" height="41" fill="#7b7c7d"/><rect x="1480" y="560" width="41" height="41" fill="#7b7c7d"/><rect x="1520" y="560" width="41" height="41" fill="#7b7c7d"/><rect x="-120" y="600" width="41" height="41" fill="#5e5e62"/><rect x="-80" y="600" width="41" height="41" fill="#5e5e62"/><rect x="-40" y="600" width="41" height="41" fill="#5e5e62"/><rect x="0" y="600" width="41" height="41" fill="#5f6064"/><rect x="40" y="600" width="41" height="41" fill="#646469"/><rect x="80" y="600" width="41" height="41" fill="#6f7074"/><rect x="120" y="600" width="41" height="41" fill="#7e7f83"/><rect x="160" y="600" width="41" height="41" fill="#7f8187"/><rect x="200" y="600" width="41" height="41" fill="#7b7d84"/><rect x="240" y="600" width="41" height="41" fill="#787a83"/><rect x="280" y="600" width="41" height="41" fill="#787a84"/><rect x="320" y="600" width="41" height="41" fill="#7a7c87"/><rect x="360" y="600" width="41" height="41" fill="#7c7e8a"/><rect x="400" y="600" width="41" height="41" fill="#7e808d"/><rect x="440" y="600" width="41" height="41" fill="#7e808d"/><rect x="480" y="600" width="41" height="41" fill="#7d808d"/><rect x="520" y="600" width="41" height="41" fill="#7c7f8d"/><rect x="560" y="600" width="41" height="41" fill="#7b7e8c"/><rect x="600" y="600" width="41" height="41" fill="#7a7d8b"/><rect x="640" y="600" width="41" height="41" fill="#797b8a"/><rect x="680" y="600" width="41" height="41" fill="#777988"/><rect x="720" y="600" width="41" height="41" fill="#757786"/><rect x="760" y="600" width="41" height="41" fill="#737584"/><rect x="800" y="600" width="41" height="41" fill="#707381"/><rect x="840" y="600" width="41" height="41" fill="#6e707f"/><rect x="880" y="600" width="41" height="41" fill="#6c6f7c"/><rect x="920" y="600" width="41" height="41" fill="#6b6e7c"/><rect x="960" y="600" width="41" height="41" fill="#6d707d"/><rect x="1000" y="600" width="41" height="41" fill="#717480"/><rect x="1040" y="600" width="41" height="41" fill="#757883"/><rect x="1080" y="600" width="41" height="41" fill="#787b85"/><rect x="1120" y="600" width="41" height="41" fill="#7c7f87"/><rect x="1160" y="600" width="41" height="41" fill="#808289"/><rect x="1200" y="600" width="41" height="41" fill="#83858b"/><rect x="1240" y="600" width="41" height="41" fill="#86878b"/><rect x="1280" y="600" width="41" height="41" fill="#86878a"/><rect x="1320" y="600" width="41" height="41" fill="#858688"/><rect x="1360" y="600" width="41" height="41" fill="#828284"/><rect x="1400" y="600" width="41" height="41" fill="#7e7f80"/><rect x="1440" y="600" width="41" height="41" fill="#7e7f80"/><rect x="1480" y="600" width="41" height="41" fill="#7e7f80"/><rect x="1520" y="600" width="41" height="41" fill="#7e7f80"/><rect x="-120" y="640" width="41" height="41" fill="#5e5f64"/><rect x="-80" y="640" width="41" height="41" fill="#5e5f64"/><rect x="-40" y="640" width="41" height="41" fill="#5e5f64"/><rect x="0" y="640" width="41" height="41" fill="#5e5f64"/><rect x="40" y="640" width="41" height="41" fill="#606166"/><rect x="80" y="640" width="41" height="41" fill="#65666c"/><rect x="120" y="640" width="41" height="41" fill="#696b72"/><rect x="160" y="640" width="41" height="41" fill="#6b6d76"/><rect x="200" y="640" width="41" height="41" fill="#6d6f79"/><rect x="240" y="640" width="41" height="41" fill="#6e717b"/><rect x="280" y="640" width="41" height="41" fill="#71737e"/><rect x="320" y="640" width="41" height="41" fill="#747682"/><rect x="360" y="640" width="41" height="41" fill="#777986"/><rect x="400" y="640" width="41" height="41" fill="#7a7c89"/><rect x="440" y="640" width="41" height="41" fill="#7b7d8b"/><rect x="480" y="640" width="41" height="41" fill="#7b7e8c"/><rect x="520" y="640" width="41" height="41" fill="#7c7e8d"/><rect x="560" y="640" width="41" height="41" fill="#7b7e8d"/><rect x="600" y="640" width="41" height="41" fill="#7b7d8c"/><rect x="640" y="640" width="41" height="41" fill="#7a7c8b"/><rect x="680" y="640" width="41" height="41" fill="#787a89"/><rect x="720" y="640" width="41" height="41" fill="#767887"/><rect x="760" y="640" width="41" height="41" fill="#737584"/><rect x="800" y="640" width="41" height="41" fill="#707281"/><rect x="840" y="640" width="41" height="41" fill="#6d6f7d"/><rect x="880" y="640" width="41" height="41" fill="#6a6c7a"/><rect x="920" y="640" width="41" height="41" fill="#686b77"/><rect x="960" y="640" width="41" height="41" fill="#6a6d79"/><rect x="1000" y="640" width="41" height="41" fill="#6f727d"/><rect x="1040" y="640" width="41" height="41" fill="#737681"/><rect x="1080" y="640" width="41" height="41" fill="#777a84"/><rect x="1120" y="640" width="41" height="41" fill="#7c7f87"/><rect x="1160" y="640" width="41" height="41" fill="#81838a"/><rect x="1200" y="640" width="41" height="41" fill="#86878d"/><rect x="1240" y="640" width="41" height="41" fill="#898a8e"/><rect x="1280" y="640" width="41" height="41" fill="#8a8b8e"/><rect x="1320" y="640" width="41" height="41" fill="#88898b"/><rect x="1360" y="640" width="41" height="41" fill="#848486"/><rect x="1400" y="640" width="41" height="41" fill="#7f8081"/><rect x="1440" y="640" width="41" height="41" fill="#7f8081"/><rect x="1480" y="640" width="41" height="41" fill="#7f8081"/><rect x="1520" y="640" width="41" height="41" fill="#7f8081"/><rect x="-120" y="680" width="41" height="41" fill="#616267"/><rect x="-80" y="680" width="41" height="41" fill="#616267"/><rect x="-40" y="680" width="41" height="41" fill="#616267"/><rect x="0" y="680" width="41" height="41" fill="#616267"/><rect x="40" y="680" width="41" height="41" fill="#606267"/><rect x="80" y="680" width="41" height="41" fill="#606268"/><rect x="120" y="680" width="41" height="41" fill="#5c5e67"/><rect x="160" y="680" width="41" height="41" fill="#5b5d68"/><rect x="200" y="680" width="41" height="41" fill="#60626e"/><rect x="240" y="680" width="41" height="41" fill="#656774"/><rect x="280" y="680" width="41" height="41" fill="#696b78"/><rect x="320" y="680" width="41" height="41" fill="#6e707c"/><rect x="360" y="680" width="41" height="41" fill="#727480"/><rect x="400" y="680" width="41" height="41" fill="#757784"/><rect x="440" y="680" width="41" height="41" fill="#777a87"/><rect x="480" y="680" width="41" height="41" fill="#787b89"/><rect x="520" y="680" width="41" height="41" fill="#7a7c8b"/><rect x="560" y="680" width="41" height="41" fill="#7a7d8c"/><rect x="600" y="680" width="41" height="41" fill="#7b7d8c"/><rect x="640" y="680" width="41" height="41" fill="#7a7c8b"/><rect x="680" y="680" width="41" height="41" fill="#797b8a"/><rect x="720" y="680" width="41" height="41" fill="#767888"/><rect x="760" y="680" width="41" height="41" fill="#747584"/><rect x="800" y="680" width="41" height="41" fill="#707281"/><rect x="840" y="680" width="41" height="41" fill="#6d6f7d"/><rect x="880" y="680" width="41" height="41" fill="#696c79"/><rect x="920" y="680" width="41" height="41" fill="#676a76"/><rect x="960" y="680" width="41" height="41" fill="#696c78"/><rect x="1000" y="680" width="41" height="41" fill="#6e717c"/><rect x="1040" y="680" width="41" height="41" fill="#71747f"/><rect x="1080" y="680" width="41" height="41" fill="#757781"/><rect x="1120" y="680" width="41" height="41" fill="#797c84"/><rect x="1160" y="680" width="41" height="41" fill="#7f8188"/><rect x="1200" y="680" width="41" height="41" fill="#86878c"/><rect x="1240" y="680" width="41" height="41" fill="#8b8c8f"/><rect x="1280" y="680" width="41" height="41" fill="#8c8d8f"/><rect x="1320" y="680" width="41" height="41" fill="#898a8c"/><rect x="1360" y="680" width="41" height="41" fill="#838485"/><rect x="1400" y="680" width="41" height="41" fill="#7e7e80"/><rect x="1440" y="680" width="41" height="41" fill="#7e7e80"/><rect x="1480" y="680" width="41" height="41" fill="#7e7e80"/><rect x="1520" y="680" width="41" height="41" fill="#7e7e80"/><rect x="-120" y="720" width="41" height="41" fill="#66676c"/><rect x="-80" y="720" width="41" height="41" fill="#66676c"/><rect x="-40" y="720" width="41" height="41" fill="#66676c"/><rect x="0" y="720" width="41" height="41" fill="#65676c"/><rect x="40" y="720" width="41" height="41" fill="#64656b"/><rect x="80" y="720" width="41" height="41" fill="#61636a"/><rect x="120" y="720" width="41" height="41" fill="#5d6068"/><rect x="160" y="720" width="41" height="41" fill="#5b5d67"/><rect x="200" y="720" width="41" height="41" fill="#5c5e6a"/><rect x="240" y="720" width="41" height="41" fill="#60626e"/><rect x="280" y="720" width="41" height="41" fill="#646673"/><rect x="320" y="720" width="41" height="41" fill="#696b77"/><rect x="360" y="720" width="41" height="41" fill="#6d6f7b"/><rect x="400" y="720" width="41" height="41" fill="#70737f"/><rect x="440" y="720" width="41" height="41" fill="#737683"/><rect x="480" y="720" width="41" height="41" fill="#757886"/><rect x="520" y="720" width="41" height="41" fill="#777a88"/><rect x="560" y="720" width="41" height="41" fill="#797b8a"/><rect x="600" y="720" width="41" height="41" fill="#797c8b"/><rect x="640" y="720" width="41" height="41" fill="#7a7b8b"/><rect x="680" y="720" width="41" height="41" fill="#797a8a"/><rect x="720" y="720" width="41" height="41" fill="#777888"/><rect x="760" y="720" width="41" height="41" fill="#747585"/><rect x="800" y="720" width="41" height="41" fill="#707281"/><rect x="840" y="720" width="41" height="41" fill="#6d6f7d"/><rect x="880" y="720" width="41" height="41" fill="#6a6c7a"/><rect x="920" y="720" width="41" height="41" fill="#696b77"/><rect x="960" y="720" width="41" height="41" fill="#6a6d78"/><rect x="1000" y="720" width="41" height="41" fill="#6c6f7a"/><rect x="1040" y="720" width="41" height="41" fill="#6d707b"/><rect x="1080" y="720" width="41" height="41" fill="#6f727c"/><rect x="1120" y="720" width="41" height="41" fill="#73767f"/><rect x="1160" y="720" width="41" height="41" fill="#7a7c83"/><rect x="1200" y="720" width="41" height="41" fill="#828389"/><rect x="1240" y="720" width="41" height="41" fill="#898a8d"/><rect x="1280" y="720" width="41" height="41" fill="#8b8c8e"/><rect x="1320" y="720" width="41" height="41" fill="#87888a"/><rect x="1360" y="720" width="41" height="41" fill="#7f8082"/><rect x="1400" y="720" width="41" height="41" fill="#79797b"/><rect x="1440" y="720" width="41" height="41" fill="#79797b"/><rect x="1480" y="720" width="41" height="41" fill="#79797b"/><rect x="1520" y="720" width="41" height="41" fill="#79797b"/><rect x="-120" y="760" width="41" height="41" fill="#6c6d72"/><rect x="-80" y="760" width="41" height="41" fill="#6c6d72"/><rect x="-40" y="760" width="41" height="41" fill="#6c6d72"/><rect x="0" y="760" width="41" height="41" fill="#6b6c71"/><rect x="40" y="760" width="41" height="41" fill="#696a70"/><rect x="80" y="760" width="41" height="41" fill="#65676e"/><rect x="120" y="760" width="41" height="41" fill="#62636c"/><rect x="160" y="760" width="41" height="41" fill="#5f616a"/><rect x="200" y="760" width="41" height="41" fill="#5e606b"/><rect x="240" y="760" width="41" height="41" fill="#5f616d"/><rect x="280" y="760" width="41" height="41" fill="#62646f"/><rect x="320" y="760" width="41" height="41" fill="#656772"/><rect x="360" y="760" width="41" height="41" fill="#696b76"/><rect x="400" y="760" width="41" height="41" fill="#6c6e7a"/><rect x="440" y="760" width="41" height="41" fill="#6e717e"/><rect x="480" y="760" width="41" height="41" fill="#717481"/><rect x="520" y="760" width="41" height="41" fill="#747684"/><rect x="560" y="760" width="41" height="41" fill="#767887"/><rect x="600" y="760" width="41" height="41" fill="#787a88"/><rect x="640" y="760" width="41" height="41" fill="#787a89"/><rect x="680" y="760" width="41" height="41" fill="#787a89"/><rect x="720" y="760" width="41" height="41" fill="#767887"/><rect x="760" y="760" width="41" height="41" fill="#747584"/><rect x="800" y="760" width="41" height="41" fill="#707281"/><rect x="840" y="760" width="41" height="41" fill="#6d6e7d"/><rect x="880" y="760" width="41" height="41" fill="#6a6c7a"/><rect x="920" y="760" width="41" height="41" fill="#696b77"/><rect x="960" y="760" width="41" height="41" fill="#686b76"/><rect x="1000" y="760" width="41" height="41" fill="#686b76"/><rect x="1040" y="760" width="41" height="41" fill="#676a75"/><rect x="1080" y="760" width="41" height="41" fill="#676a75"/><rect x="1120" y="760" width="41" height="41" fill="#6a6c76"/><rect x="1160" y="760" width="41" height="41" fill="#70727a"/><rect x="1200" y="760" width="41" height="41" fill="#797a80"/><rect x="1240" y="760" width="41" height="41" fill="#828387"/><rect x="1280" y="760" width="41" height="41" fill="#868789"/><rect x="1320" y="760" width="41" height="41" fill="#808183"/><rect x="1360" y="760" width="41" height="41" fill="#767679"/><rect x="1400" y="760" width="41" height="41" fill="#6f7073"/><rect x="1440" y="760" width="41" height="41" fill="#6f7073"/><rect x="1480" y="760" width="41" height="41" fill="#6f7073"/><rect x="1520" y="760" width="41" height="41" fill="#6f7073"/><rect x="-120" y="800" width="41" height="41" fill="#727378"/><rect x="-80" y="800" width="41" height="41" fill="#727378"/><rect x="-40" y="800" width="41" height="41" fill="#727378"/><rect x="0" y="800" width="41" height="41" fill="#717277"/><rect x="40" y="800" width="41" height="41" fill="#6e7075"/><rect x="80" y="800" width="41" height="41" fill="#6a6c72"/><rect x="120" y="800" width="41" height="41" fill="#666870"/><rect x="160" y="800" width="41" height="41" fill="#63656e"/><rect x="200" y="800" width="41" height="41" fill="#62646d"/><rect x="240" y="800" width="41" height="41" fill="#61636d"/><rect x="280" y="800" width="41" height="41" fill="#61646e"/><rect x="320" y="800" width="41" height="41" fill="#636570"/><rect x="360" y="800" width="41" height="41" fill="#656872"/><rect x="400" y="800" width="41" height="41" fill="#686a75"/><rect x="440" y="800" width="41" height="41" fill="#6a6d79"/><rect x="480" y="800" width="41" height="41" fill="#6d707d"/><rect x="520" y="800" width="41" height="41" fill="#707280"/><rect x="560" y="800" width="41" height="41" fill="#737583"/><rect x="600" y="800" width="41" height="41" fill="#757785"/><rect x="640" y="800" width="41" height="41" fill="#767886"/><rect x="680" y="800" width="41" height="41" fill="#767886"/><rect x="720" y="800" width="41" height="41" fill="#757685"/><rect x="760" y="800" width="41" height="41" fill="#727483"/><rect x="800" y="800" width="41" height="41" fill="#6f7080"/><rect x="840" y="800" width="41" height="41" fill="#6c6d7c"/><rect x="880" y="800" width="41" height="41" fill="#696b78"/><rect x="920" y="800" width="41" height="41" fill="#676975"/><rect x="960" y="800" width="41" height="41" fill="#656773"/><rect x="1000" y="800" width="41" height="41" fill="#636671"/><rect x="1040" y="800" width="41" height="41" fill="#60636e"/><rect x="1080" y="800" width="41" height="41" fill="#5d606b"/><rect x="1120" y="800" width="41" height="41" fill="#5d606a"/><rect x="1160" y="800" width="41" height="41" fill="#62636d"/><rect x="1200" y="800" width="41" height="41" fill="#696b72"/><rect x="1240" y="800" width="41" height="41" fill="#737479"/><rect x="1280" y="800" width="41" height="41" fill="#797a7d"/><rect x="1320" y="800" width="41" height="41" fill="#6f7074"/><rect x="1360" y="800" width="41" height="41" fill="#66676b"/><rect x="1400" y="800" width="41" height="41" fill="#616266"/><rect x="1440" y="800" width="41" height="41" fill="#616266"/><rect x="1480" y="800" width="41" height="41" fill="#616266"/><rect x="1520" y="800" width="41" height="41" fill="#616266"/><rect x="-120" y="840" width="41" height="41" fill="#77787d"/><rect x="-80" y="840" width="41" height="41" fill="#77787d"/><rect x="-40" y="840" width="41" height="41" fill="#77787d"/><rect x="0" y="840" width="41" height="41" fill="#76787c"/><rect x="40" y="840" width="41" height="41" fill="#73747a"/><rect x="80" y="840" width="41" height="41" fill="#6f7076"/><rect x="120" y="840" width="41" height="41" fill="#6a6c72"/><rect x="160" y="840" width="41" height="41" fill="#676970"/><rect x="200" y="840" width="41" height="41" fill="#65676e"/><rect x="240" y="840" width="41" height="41" fill="#62646d"/><rect x="280" y="840" width="41" height="41" fill="#61636c"/><rect x="320" y="840" width="41" height="41" fill="#61636c"/><rect x="360" y="840" width="41" height="41" fill="#62646e"/><rect x="400" y="840" width="41" height="41" fill="#636671"/><rect x="440" y="840" width="41" height="41" fill="#656874"/><rect x="480" y="840" width="41" height="41" fill="#686b77"/><rect x="520" y="840" width="41" height="41" fill="#6b6e7b"/><rect x="560" y="840" width="41" height="41" fill="#6e717e"/><rect x="600" y="840" width="41" height="41" fill="#717380"/><rect x="640" y="840" width="41" height="41" fill="#737582"/><rect x="680" y="840" width="41" height="41" fill="#737583"/><rect x="720" y="840" width="41" height="41" fill="#727382"/><rect x="760" y="840" width="41" height="41" fill="#6f717f"/><rect x="800" y="840" width="41" height="41" fill="#6d6e7c"/><rect x="840" y="840" width="41" height="41" fill="#696b79"/><rect x="880" y="840" width="41" height="41" fill="#666875"/><rect x="920" y="840" width="41" height="41" fill="#636572"/><rect x="960" y="840" width="41" height="41" fill="#60636f"/><rect x="1000" y="840" width="41" height="41" fill="#5d606b"/><rect x="1040" y="840" width="41" height="41" fill="#595c67"/><rect x="1080" y="840" width="41" height="41" fill="#545762"/><rect x="1120" y="840" width="41" height="41" fill="#51535e"/><rect x="1160" y="840" width="41" height="41" fill="#51535d"/><rect x="1200" y="840" width="41" height="41" fill="#54565f"/><rect x="1240" y="840" width="41" height="41" fill="#585a61"/><rect x="1280" y="840" width="41" height="41" fill="#56575e"/><rect x="1320" y="840" width="41" height="41" fill="#53555b"/><rect x="1360" y="840" width="41" height="41" fill="#525359"/><rect x="1400" y="840" width="41" height="41" fill="#505157"/><rect x="1440" y="840" width="41" height="41" fill="#505157"/><rect x="1480" y="840" width="41" height="41" fill="#505157"/><rect x="1520" y="840" width="41" height="41" fill="#505157"/><rect x="-120" y="880" width="41" height="41" fill="#7b7c80"/><rect x="-80" y="880" width="41" height="41" fill="#7b7c80"/><rect x="-40" y="880" width="41" height="41" fill="#7b7c80"/><rect x="0" y="880" width="41" height="41" fill="#7a7b80"/><rect x="40" y="880" width="41" height="41" fill="#76777c"/><rect x="80" y="880" width="41" height="41" fill="#707277"/><rect x="120" y="880" width="41" height="41" fill="#6b6c72"/><rect x="160" y="880" width="41" height="41" fill="#66686e"/><rect x="200" y="880" width="41" height="41" fill="#63656b"/><rect x="240" y="880" width="41" height="41" fill="#606269"/><rect x="280" y="880" width="41" height="41" fill="#5e6068"/><rect x="320" y="880" width="41" height="41" fill="#5d6068"/><rect x="360" y="880" width="41" height="41" fill="#5d6069"/><rect x="400" y="880" width="41" height="41" fill="#5f616c"/><rect x="440" y="880" width="41" height="41" fill="#60636e"/><rect x="480" y="880" width="41" height="41" fill="#636672"/><rect x="520" y="880" width="41" height="41" fill="#666975"/><rect x="560" y="880" width="41" height="41" fill="#696c78"/><rect x="600" y="880" width="41" height="41" fill="#6c6e7b"/><rect x="640" y="880" width="41" height="41" fill="#6d6f7d"/><rect x="680" y="880" width="41" height="41" fill="#6e707d"/><rect x="720" y="880" width="41" height="41" fill="#6d6f7c"/><rect x="760" y="880" width="41" height="41" fill="#6b6d7a"/><rect x="800" y="880" width="41" height="41" fill="#686a78"/><rect x="840" y="880" width="41" height="41" fill="#656774"/><rect x="880" y="880" width="41" height="41" fill="#626471"/><rect x="920" y="880" width="41" height="41" fill="#5e606d"/><rect x="960" y="880" width="41" height="41" fill="#5b5d69"/><rect x="1000" y="880" width="41" height="41" fill="#575964"/><rect x="1040" y="880" width="41" height="41" fill="#52545f"/><rect x="1080" y="880" width="41" height="41" fill="#4c4e5a"/><rect x="1120" y="880" width="41" height="41" fill="#474954"/><rect x="1160" y="880" width="41" height="41" fill="#454651"/><rect x="1200" y="880" width="41" height="41" fill="#43454e"/><rect x="1240" y="880" width="41" height="41" fill="#41434c"/><rect x="1280" y="880" width="41" height="41" fill="#3d3f48"/><rect x="1320" y="880" width="41" height="41" fill="#3e4048"/><rect x="1360" y="880" width="41" height="41" fill="#41424a"/><rect x="1400" y="880" width="41" height="41" fill="#42434a"/><rect x="1440" y="880" width="41" height="41" fill="#42434a"/><rect x="1480" y="880" width="41" height="41" fill="#42434a"/><rect x="1520" y="880" width="41" height="41" fill="#42434a"/><rect x="-120" y="920" width="41" height="41" fill="#7b7d81"/><rect x="-80" y="920" width="41" height="41" fill="#7b7d81"/><rect x="-40" y="920" width="41" height="41" fill="#7b7d81"/><rect x="0" y="920" width="41" height="41" fill="#7a7c80"/><rect x="40" y="920" width="41" height="41" fill="#76777b"/><rect x="80" y="920" width="41" height="41" fill="#6e6f74"/><rect x="120" y="920" width="41" height="41" fill="#67686e"/><rect x="160" y="920" width="41" height="41" fill="#616369"/><rect x="200" y="920" width="41" height="41" fill="#5e5f65"/><rect x="240" y="920" width="41" height="41" fill="#5b5d63"/><rect x="280" y="920" width="41" height="41" fill="#595b62"/><rect x="320" y="920" width="41" height="41" fill="#585b62"/><rect x="360" y="920" width="41" height="41" fill="#585b64"/><rect x="400" y="920" width="41" height="41" fill="#595c66"/><rect x="440" y="920" width="41" height="41" fill="#5b5e68"/><rect x="480" y="920" width="41" height="41" fill="#5e606b"/><rect x="520" y="920" width="41" height="41" fill="#60636e"/><rect x="560" y="920" width="41" height="41" fill="#636671"/><rect x="600" y="920" width="41" height="41" fill="#656874"/><rect x="640" y="920" width="41" height="41" fill="#676976"/><rect x="680" y="920" width="41" height="41" fill="#676a76"/><rect x="720" y="920" width="41" height="41" fill="#676976"/><rect x="760" y="920" width="41" height="41" fill="#656774"/><rect x="800" y="920" width="41" height="41" fill="#636572"/><rect x="840" y="920" width="41" height="41" fill="#60626f"/><rect x="880" y="920" width="41" height="41" fill="#5d5e6b"/><rect x="920" y="920" width="41" height="41" fill="#595b67"/><rect x="960" y="920" width="41" height="41" fill="#555763"/><rect x="1000" y="920" width="41" height="41" fill="#50535e"/><rect x="1040" y="920" width="41" height="41" fill="#4b4d58"/><rect x="1080" y="920" width="41" height="41" fill="#464853"/><rect x="1120" y="920" width="41" height="41" fill="#41434d"/><rect x="1160" y="920" width="41" height="41" fill="#3d3e49"/><rect x="1200" y="920" width="41" height="41" fill="#393b45"/><rect x="1240" y="920" width="41" height="41" fill="#373842"/><rect x="1280" y="920" width="41" height="41" fill="#363740"/><rect x="1320" y="920" width="41" height="41" fill="#37373f"/><rect x="1360" y="920" width="41" height="41" fill="#383840"/><rect x="1400" y="920" width="41" height="41" fill="#383940"/><rect x="1440" y="920" width="41" height="41" fill="#383940"/><rect x="1480" y="920" width="41" height="41" fill="#383940"/><rect x="1520" y="920" width="41" height="41" fill="#383940"/><rect x="-120" y="960" width="41" height="41" fill="#77787d"/><rect x="-80" y="960" width="41" height="41" fill="#77787d"/><rect x="-40" y="960" width="41" height="41" fill="#77787d"/><rect x="0" y="960" width="41" height="41" fill="#76787c"/><rect x="40" y="960" width="41" height="41" fill="#707075"/><rect x="80" y="960" width="41" height="41" fill="#66676c"/><rect x="120" y="960" width="41" height="41" fill="#5e5f64"/><rect x="160" y="960" width="41" height="41" fill="#595a60"/><rect x="200" y="960" width="41" height="41" fill="#55575d"/><rect x="240" y="960" width="41" height="41" fill="#53555b"/><rect x="280" y="960" width="41" height="41" fill="#52545b"/><rect x="320" y="960" width="41" height="41" fill="#51545b"/><rect x="360" y="960" width="41" height="41" fill="#52555d"/><rect x="400" y="960" width="41" height="41" fill="#53565f"/><rect x="440" y="960" width="41" height="41" fill="#555861"/><rect x="480" y="960" width="41" height="41" fill="#575a64"/><rect x="520" y="960" width="41" height="41" fill="#5a5d67"/><rect x="560" y="960" width="41" height="41" fill="#5c5f6a"/><rect x="600" y="960" width="41" height="41" fill="#5e616c"/><rect x="640" y="960" width="41" height="41" fill="#60626e"/><rect x="680" y="960" width="41" height="41" fill="#60636f"/><rect x="720" y="960" width="41" height="41" fill="#60626e"/><rect x="760" y="960" width="41" height="41" fill="#5f616d"/><rect x="800" y="960" width="41" height="41" fill="#5d5e6b"/><rect x="840" y="960" width="41" height="41" fill="#5a5c68"/><rect x="880" y="960" width="41" height="41" fill="#575965"/><rect x="920" y="960" width="41" height="41" fill="#535561"/><rect x="960" y="960" width="41" height="41" fill="#4f515c"/><rect x="1000" y="960" width="41" height="41" fill="#4b4d57"/><rect x="1040" y="960" width="41" height="41" fill="#464852"/><rect x="1080" y="960" width="41" height="41" fill="#41434d"/><rect x="1120" y="960" width="41" height="41" fill="#3c3e48"/><rect x="1160" y="960" width="41" height="41" fill="#393a44"/><rect x="1200" y="960" width="41" height="41" fill="#363740"/><rect x="1240" y="960" width="41" height="41" fill="#34343d"/><rect x="1280" y="960" width="41" height="41" fill="#33333b"/><rect x="1320" y="960" width="41" height="41" fill="#33333a"/><rect x="1360" y="960" width="41" height="41" fill="#323239"/><rect x="1400" y="960" width="41" height="41" fill="#323238"/><rect x="1440" y="960" width="41" height="41" fill="#323238"/><rect x="1480" y="960" width="41" height="41" fill="#323238"/><rect x="1520" y="960" width="41" height="41" fill="#323238"/><rect x="-120" y="1000" width="41" height="41" fill="#696b70"/><rect x="-80" y="1000" width="41" height="41" fill="#696b70"/><rect x="-40" y="1000" width="41" height="41" fill="#696b70"/><rect x="0" y="1000" width="41" height="41" fill="#686a6f"/><rect x="40" y="1000" width="41" height="41" fill="#606065"/><rect x="80" y="1000" width="41" height="41" fill="#57575c"/><rect x="120" y="1000" width="41" height="41" fill="#515257"/><rect x="160" y="1000" width="41" height="41" fill="#4d4f54"/><rect x="200" y="1000" width="41" height="41" fill="#4b4d52"/><rect x="240" y="1000" width="41" height="41" fill="#4a4c52"/><rect x="280" y="1000" width="41" height="41" fill="#494c52"/><rect x="320" y="1000" width="41" height="41" fill="#4a4c53"/><rect x="360" y="1000" width="41" height="41" fill="#4b4d55"/><rect x="400" y="1000" width="41" height="41" fill="#4c4f57"/><rect x="440" y="1000" width="41" height="41" fill="#4e515a"/><rect x="480" y="1000" width="41" height="41" fill="#50535c"/><rect x="520" y="1000" width="41" height="41" fill="#53555f"/><rect x="560" y="1000" width="41" height="41" fill="#555862"/><rect x="600" y="1000" width="41" height="41" fill="#575964"/><rect x="640" y="1000" width="41" height="41" fill="#585b66"/><rect x="680" y="1000" width="41" height="41" fill="#595b67"/><rect x="720" y="1000" width="41" height="41" fill="#595b66"/><rect x="760" y="1000" width="41" height="41" fill="#585a65"/><rect x="800" y="1000" width="41" height="41" fill="#565863"/><rect x="840" y="1000" width="41" height="41" fill="#545561"/><rect x="880" y="1000" width="41" height="41" fill="#51525e"/><rect x="920" y="1000" width="41" height="41" fill="#4d4f5a"/><rect x="960" y="1000" width="41" height="41" fill="#494b56"/><rect x="1000" y="1000" width="41" height="41" fill="#454751"/><rect x="1040" y="1000" width="41" height="41" fill="#41434d"/><rect x="1080" y="1000" width="41" height="41" fill="#3d3f48"/><rect x="1120" y="1000" width="41" height="41" fill="#393b44"/><rect x="1160" y="1000" width="41" height="41" fill="#363840"/><rect x="1200" y="1000" width="41" height="41" fill="#34353d"/><rect x="1240" y="1000" width="41" height="41" fill="#32323a"/><rect x="1280" y="1000" width="41" height="41" fill="#303037"/><rect x="1320" y="1000" width="41" height="41" fill="#2e2f35"/><rect x="1360" y="1000" width="41" height="41" fill="#2d2d33"/><rect x="1400" y="1000" width="41" height="41" fill="#2c2c32"/><rect x="1440" y="1000" width="41" height="41" fill="#2c2c32"/><rect x="1480" y="1000" width="41" height="41" fill="#2c2c32"/><rect x="1520" y="1000" width="41" height="41" fill="#2c2c32"/><rect x="-120" y="1040" width="41" height="41" fill="#55565c"/><rect x="-80" y="1040" width="41" height="41" fill="#55565c"/><rect x="-40" y="1040" width="41" height="41" fill="#55565c"/><rect x="0" y="1040" width="41" height="41" fill="#515258"/><rect x="40" y="1040" width="41" height="41" fill="#4a4a4f"/><rect x="80" y="1040" width="41" height="41" fill="#444549"/><rect x="120" y="1040" width="41" height="41" fill="#414347"/><rect x="160" y="1040" width="41" height="41" fill="#404246"/><rect x="200" y="1040" width="41" height="41" fill="#3f4246"/><rect x="240" y="1040" width="41" height="41" fill="#404247"/><rect x="280" y="1040" width="41" height="41" fill="#404348"/><rect x="320" y="1040" width="41" height="41" fill="#41444a"/><rect x="360" y="1040" width="41" height="41" fill="#43454c"/><rect x="400" y="1040" width="41" height="41" fill="#44474f"/><rect x="440" y="1040" width="41" height="41" fill="#464951"/><rect x="480" y="1040" width="41" height="41" fill="#494c54"/><rect x="520" y="1040" width="41" height="41" fill="#4b4e57"/><rect x="560" y="1040" width="41" height="41" fill="#4d505a"/><rect x="600" y="1040" width="41" height="41" fill="#4f525c"/><rect x="640" y="1040" width="41" height="41" fill="#50535d"/><rect x="680" y="1040" width="41" height="41" fill="#51545e"/><rect x="720" y="1040" width="41" height="41" fill="#51535e"/><rect x="760" y="1040" width="41" height="41" fill="#50525d"/><rect x="800" y="1040" width="41" height="41" fill="#4f515c"/><rect x="840" y="1040" width="41" height="41" fill="#4d4f59"/><rect x="880" y="1040" width="41" height="41" fill="#4a4c57"/><rect x="920" y="1040" width="41" height="41" fill="#474953"/><rect x="960" y="1040" width="41" height="41" fill="#44464f"/><rect x="1000" y="1040" width="41" height="41" fill="#40424b"/><rect x="1040" y="1040" width="41" height="41" fill="#3c3e47"/><rect x="1080" y="1040" width="41" height="41" fill="#393b43"/><rect x="1120" y="1040" width="41" height="41" fill="#363840"/><rect x="1160" y="1040" width="41" height="41" fill="#34353d"/><rect x="1200" y="1040" width="41" height="41" fill="#32333a"/><rect x="1240" y="1040" width="41" height="41" fill="#2f3036"/><rect x="1280" y="1040" width="41" height="41" fill="#2c2d33"/><rect x="1320" y="1040" width="41" height="41" fill="#2a2b30"/><rect x="1360" y="1040" width="41" height="41" fill="#28292e"/><rect x="1400" y="1040" width="41" height="41" fill="#27282c"/><rect x="1440" y="1040" width="41" height="41" fill="#27282c"/><rect x="1480" y="1040" width="41" height="41" fill="#27282c"/><rect x="1520" y="1040" width="41" height="41" fill="#27282c"/><rect x="-120" y="1080" width="41" height="41" fill="#44454b"/><rect x="-80" y="1080" width="41" height="41" fill="#44454b"/><rect x="-40" y="1080" width="41" height="41" fill="#44454b"/><rect x="0" y="1080" width="41" height="41" fill="#404247"/><rect x="40" y="1080" width="41" height="41" fill="#3a3b40"/><rect x="80" y="1080" width="41" height="41" fill="#35373a"/><rect x="120" y="1080" width="41" height="41" fill="#343539"/><rect x="160" y="1080" width="41" height="41" fill="#34363a"/><rect x="200" y="1080" width="41" height="41" fill="#34363b"/><rect x="240" y="1080" width="41" height="41" fill="#35383c"/><rect x="280" y="1080" width="41" height="41" fill="#37393e"/><rect x="320" y="1080" width="41" height="41" fill="#383b41"/><rect x="360" y="1080" width="41" height="41" fill="#3a3d43"/><rect x="400" y="1080" width="41" height="41" fill="#3c3f46"/><rect x="440" y="1080" width="41" height="41" fill="#3f4249"/><rect x="480" y="1080" width="41" height="41" fill="#41444c"/><rect x="520" y="1080" width="41" height="41" fill="#43464e"/><rect x="560" y="1080" width="41" height="41" fill="#454851"/><rect x="600" y="1080" width="41" height="41" fill="#474a53"/><rect x="640" y="1080" width="41" height="41" fill="#484b55"/><rect x="680" y="1080" width="41" height="41" fill="#494c55"/><rect x="720" y="1080" width="41" height="41" fill="#494c56"/><rect x="760" y="1080" width="41" height="41" fill="#494b55"/><rect x="800" y="1080" width="41" height="41" fill="#484a54"/><rect x="840" y="1080" width="41" height="41" fill="#464852"/><rect x="880" y="1080" width="41" height="41" fill="#44464f"/><rect x="920" y="1080" width="41" height="41" fill="#41434c"/><rect x="960" y="1080" width="41" height="41" fill="#3e4049"/><rect x="1000" y="1080" width="41" height="41" fill="#3b3d45"/><rect x="1040" y="1080" width="41" height="41" fill="#383a42"/><rect x="1080" y="1080" width="41" height="41" fill="#35373e"/><rect x="1120" y="1080" width="41" height="41" fill="#32343b"/><rect x="1160" y="1080" width="41" height="41" fill="#303138"/><rect x="1200" y="1080" width="41" height="41" fill="#2e2f35"/><rect x="1240" y="1080" width="41" height="41" fill="#2b2c32"/><rect x="1280" y="1080" width="41" height="41" fill="#28292e"/><rect x="1320" y="1080" width="41" height="41" fill="#25272b"/><rect x="1360" y="1080" width="41" height="41" fill="#232429"/><rect x="1400" y="1080" width="41" height="41" fill="#222327"/><rect x="1440" y="1080" width="41" height="41" fill="#222327"/><rect x="1480" y="1080" width="41" height="41" fill="#222327"/><rect x="1520" y="1080" width="41" height="41" fill="#222327"/><rect x="-120" y="1120" width="41" height="41" fill="#44454b"/><rect x="-80" y="1120" width="41" height="41" fill="#44454b"/><rect x="-40" y="1120" width="41" height="41" fill="#44454b"/><rect x="0" y="1120" width="41" height="41" fill="#404247"/><rect x="40" y="1120" width="41" height="41" fill="#3a3b40"/><rect x="80" y="1120" width="41" height="41" fill="#35373a"/><rect x="120" y="1120" width="41" height="41" fill="#343539"/><rect x="160" y="1120" width="41" height="41" fill="#34363a"/><rect x="200" y="1120" width="41" height="41" fill="#34363b"/><rect x="240" y="1120" width="41" height="41" fill="#35383c"/><rect x="280" y="1120" width="41" height="41" fill="#37393e"/><rect x="320" y="1120" width="41" height="41" fill="#383b41"/><rect x="360" y="1120" width="41" height="41" fill="#3a3d43"/><rect x="400" y="1120" width="41" height="41" fill="#3c3f46"/><rect x="440" y="1120" width="41" height="41" fill="#3f4249"/><rect x="480" y="1120" width="41" height="41" fill="#41444c"/><rect x="520" y="1120" width="41" height="41" fill="#43464e"/><rect x="560" y="1120" width="41" height="41" fill="#454851"/><rect x="600" y="1120" width="41" height="41" fill="#474a53"/><rect x="640" y="1120" width="41" height="41" fill="#484b55"/><rect x="680" y="1120" width="41" height="41" fill="#494c55"/><rect x="720" y="1120" width="41" height="41" fill="#494c56"/><rect x="760" y="1120" width="41" height="41" fill="#494b55"/><rect x="800" y="1120" width="41" height="41" fill="#484a54"/><rect x="840" y="1120" width="41" height="41" fill="#464852"/><rect x="880" y="1120" width="41" height="41" fill="#44464f"/><rect x="920" y="1120" width="41" height="41" fill="#41434c"/><rect x="960" y="1120" width="41" height="41" fill="#3e4049"/><rect x="1000" y="1120" width="41" height="41" fill="#3b3d45"/><rect x="1040" y="1120" width="41" height="41" fill="#383a42"/><rect x="1080" y="1120" width="41" height="41" fill="#35373e"/><rect x="1120" y="1120" width="41" height="41" fill="#32343b"/><rect x="1160" y="1120" width="41" height="41" fill="#303138"/><rect x="1200" y="1120" width="41" height="41" fill="#2e2f35"/><rect x="1240" y="1120" width="41" height="41" fill="#2b2c32"/><rect x="1280" y="1120" width="41" height="41" fill="#28292e"/><rect x="1320" y="1120" width="41" height="41" fill="#25272b"/><rect x="1360" y="1120" width="41" height="41" fill="#232429"/><rect x="1400" y="1120" width="41" height="41" fill="#222327"/><rect x="1440" y="1120" width="41" height="41" fill="#222327"/><rect x="1480" y="1120" width="41" height="41" fill="#222327"/><rect x="1520" y="1120" width="41" height="41" fill="#222327"/><rect x="-120" y="1160" width="41" height="41" fill="#44454b"/><rect x="-80" y="1160" width="41" height="41" fill="#44454b"/><rect x="-40" y="1160" width="41" height="41" fill="#44454b"/><rect x="0" y="1160" width="41" height="41" fill="#404247"/><rect x="40" y="1160" width="41" height="41" fill="#3a3b40"/><rect x="80" y="1160" width="41" height="41" fill="#35373a"/><rect x="120" y="1160" width="41" height="41" fill="#343539"/><rect x="160" y="1160" width="41" height="41" fill="#34363a"/><rect x="200" y="1160" width="41" height="41" fill="#34363b"/><rect x="240" y="1160" width="41" height="41" fill="#35383c"/><rect x="280" y="1160" width="41" height="41" fill="#37393e"/><rect x="320" y="1160" width="41" height="41" fill="#383b41"/><rect x="360" y="1160" width="41" height="41" fill="#3a3d43"/><rect x="400" y="1160" width="41" height="41" fill="#3c3f46"/><rect x="440" y="1160" width="41" height="41" fill="#3f4249"/><rect x="480" y="1160" width="41" height="41" fill="#41444c"/><rect x="520" y="1160" width="41" height="41" fill="#43464e"/><rect x="560" y="1160" width="41" height="41" fill="#454851"/><rect x="600" y="1160" width="41" height="41" fill="#474a53"/><rect x="640" y="1160" width="41" height="41" fill="#484b55"/><rect x="680" y="1160" width="41" height="41" fill="#494c55"/><rect x="720" y="1160" width="41" height="41" fill="#494c56"/><rect x="760" y="1160" width="41" height="41" fill="#494b55"/><rect x="800" y="1160" width="41" height="41" fill="#484a54"/><rect x="840" y="1160" width="41" height="41" fill="#464852"/><rect x="880" y="1160" width="41" height="41" fill="#44464f"/><rect x="920" y="1160" width="41" height="41" fill="#41434c"/><rect x="960" y="1160" width="41" height="41" fill="#3e4049"/><rect x="1000" y="1160" width="41" height="41" fill="#3b3d45"/><rect x="1040" y="1160" width="41" height="41" fill="#383a42"/><rect x="1080" y="1160" width="41" height="41" fill="#35373e"/><rect x="1120" y="1160" width="41" height="41" fill="#32343b"/><rect x="1160" y="1160" width="41" height="41" fill="#303138"/><rect x="1200" y="1160" width="41" height="41" fill="#2e2f35"/><rect x="1240" y="1160" width="41" height="41" fill="#2b2c32"/><rect x="1280" y="1160" width="41" height="41" fill="#28292e"/><rect x="1320" y="1160" width="41" height="41" fill="#25272b"/><rect x="1360" y="1160" width="41" height="41" fill="#232429"/><rect x="1400" y="1160" width="41" height="41" fill="#222327"/><rect x="1440" y="1160" width="41" height="41" fill="#222327"/><rect x="1480" y="1160" width="41" height="41" fill="#222327"/><rect x="1520" y="1160" width="41" height="41" fill="#222327"/><rect x="-120" y="1200" width="41" height="41" fill="#44454b"/><rect x="-80" y="1200" width="41" height="41" fill="#44454b"/><rect x="-40" y="1200" width="41" height="41" fill="#44454b"/><rect x="0" y="1200" width="41" height="41" fill="#404247"/><rect x="40" y="1200" width="41" height="41" fill="#3a3b40"/><rect x="80" y="1200" width="41" height="41" fill="#35373a"/><rect x="120" y="1200" width="41" height="41" fill="#343539"/><rect x="160" y="1200" width="41" height="41" fill="#34363a"/><rect x="200" y="1200" width="41" height="41" fill="#34363b"/><rect x="240" y="1200" width="41" height="41" fill="#35383c"/><rect x="280" y="1200" width="41" height="41" fill="#37393e"/><rect x="320" y="1200" width="41" height="41" fill="#383b41"/><rect x="360" y="1200" width="41" height="41" fill="#3a3d43"/><rect x="400" y="1200" width="41" height="41" fill="#3c3f46"/><rect x="440" y="1200" width="41" height="41" fill="#3f4249"/><rect x="480" y="1200" width="41" height="41" fill="#41444c"/><rect x="520" y="1200" width="41" height="41" fill="#43464e"/><rect x="560" y="1200" width="41" height="41" fill="#454851"/><rect x="600" y="1200" width="41" height="41" fill="#474a53"/><rect x="640" y="1200" width="41" height="41" fill="#484b55"/><rect x="680" y="1200" width="41" height="41" fill="#494c55"/><rect x="720" y="1200" width="41" height="41" fill="#494c56"/><rect x="760" y="1200" width="41" height="41" fill="#494b55"/><rect x="800" y="1200" width="41" height="41" fill="#484a54"/><rect x="840" y="1200" width="41" height="41" fill="#464852"/><rect x="880" y="1200" width="41" height="41" fill="#44464f"/><rect x="920" y="1200" width="41" height="41" fill="#41434c"/><rect x="960" y="1200" width="41" height="41" fill="#3e4049"/><rect x="1000" y="1200" width="41" height="41" fill="#3b3d45"/><rect x="1040" y="1200" width="41" height="41" fill="#383a42"/><rect x="1080" y="1200" width="41" height="41" fill="#35373e"/><rect x="1120" y="1200" width="41" height="41" fill="#32343b"/><rect x="1160" y="1200" width="41" height="41" fill="#303138"/><rect x="1200" y="1200" width="41" height="41" fill="#2e2f35"/><rect x="1240" y="1200" width="41" height="41" fill="#2b2c32"/><rect x="1280" y="1200" width="41" height="41" fill="#28292e"/><rect x="1320" y="1200" width="41" height="41" fill="#25272b"/><rect x="1360" y="1200" width="41" height="41" fill="#232429"/><rect x="1400" y="1200" width="41" height="41" fill="#222327"/><rect x="1440" y="1200" width="41" height="41" fill="#222327"/><rect x="1480" y="1200" width="41" height="41" fill="#222327"/><rect x="1520" y="1200" width="41" height="41" fill="#222327"/></g>
<defs><linearGradient id="floorband" x1="0" y1="0" x2="0" y2="1"><stop offset="0" stop-color="#1f2024"/><stop offset="1" stop-color="#27282c"/></linearGradient></defs>
<rect y="1092" width="1410" height="318" fill="url(#floorband)"/>
<defs>
<pattern id="boxdots" width="5.5" height="5.5" patternUnits="userSpaceOnUse"><circle cx="2.7" cy="2.7" r="1.35" fill="none" stroke="#8e8e8e" stroke-width="0.8"/></pattern>
<linearGradient id="topB" x1="1023" y1="482" x2="1410" y2="760" gradientUnits="userSpaceOnUse"><stop offset="0" stop-color="#f1f0f1"/><stop offset="1" stop-color="#ededee"/></linearGradient>
<linearGradient id="frontB" x1="1240" y1="740" x2="1410" y2="700" gradientUnits="userSpaceOnUse"><stop offset="0" stop-color="#eeeeef"/><stop offset="1" stop-color="#efeff0"/></linearGradient>
<linearGradient id="topC" x1="0" y1="300" x2="400" y2="560" gradientUnits="userSpaceOnUse"><stop offset="0" stop-color="#f1f1f2"/><stop offset="1" stop-color="#eeeeef"/></linearGradient>
<linearGradient id="frontC" x1="126" y1="600" x2="400" y2="480" gradientUnits="userSpaceOnUse"><stop offset="0" stop-color="#f0f0f1"/><stop offset="1" stop-color="#e8e8ea"/></linearGradient>
</defs>
<polygon points="998.3,0.0 1006.4,67.0 1197.6,282.0 1188.0,185.0 1025.7,0.0" fill="#219ca9" stroke="#b8f0f4" stroke-width="1.6" stroke-linejoin="round"/>
<polygon points="1025.7,0.0 1188.0,185.0 1410.0,84.0 1410.0,0.0" fill="#f0eff0" />
<polygon points="1188.0,185.0 1197.6,282.0 1410.0,181.3 1410.0,84.0" fill="#eeeeef" />
<line x1="1188" y1="185" x2="1410" y2="84" stroke="#e2e2e4" stroke-width="1"/>
<polygon points="1023.0,482.0 1033.0,586.0 1244.2,837.8 1237.8,738.3" fill="#219ca9" stroke="#b8f0f4" stroke-width="1.6" stroke-linejoin="round"/>
<polygon points="1023.0,482.0 1237.8,738.3 1410.0,653.5 1410.0,298.5" fill="url(#topB)" />
<polygon points="1237.8,738.3 1244.2,837.8 1410.0,754.9 1410.0,653.5" fill="url(#frontB)" />
<line x1="1237.8" y1="738.3" x2="1410" y2="653.5" stroke="#dadadc" stroke-width="1"/>
<polygon points="0.0,447.0 126.0,563.4 126.0,646.0 0.0,531.0" fill="#219ca9" stroke="#b8f0f4" stroke-width="1.6" stroke-linejoin="round"/>
<polygon points="0.0,371.5 218.0,270.1 401.8,432.0 126.0,563.4 0.0,447.0" fill="url(#topC)" />
<polygon points="126.0,563.4 401.8,432.0 395.0,520.3 126.0,646.0" fill="url(#frontC)" />
<line x1="126" y1="563.4" x2="401.8" y2="432" stroke="#dedee0" stroke-width="1"/>
<polygon points="16.8,643.4 27.5,602.2 29.0,649.5" fill="#c4c5c8" />
<polygon points="0.0,652.6 16.8,643.4 202.9,826.5 0.0,932.4" fill="#f1f1f2" />
<polygon points="202.9,826.5 199.5,904.0 0.0,1008.0 0.0,932.4" fill="#e9e9ea" />
<line x1="202.9" y1="826.5" x2="0" y2="932.4" stroke="#c9c9cc" stroke-width="1.2"/>
<g transform="matrix(0.9036 -0.4284 0.6431 0.7658 1023.00 482.00)"><g transform="translate(111.1 300.5) rotate(-2)"><rect x="-30.0" y="-6.5" width="60.0" height="13.0" rx="6.5" fill="#1f9eab"/><text x="0" y="4.3" font-size="9.4" font-weight="bold" fill="#e8fbfc" text-anchor="middle">± 0.02mm</text></g><g transform="translate(41.4 237.3) scale(1.000)"><ellipse cx="-14" cy="2" rx="12" ry="16" fill="#fafafa" stroke="#cfcfcf" stroke-width="1"/><rect x="-14" y="-11" width="20" height="24" rx="4" fill="#c9c9cb"/><rect x="-10" y="-7" width="12" height="16" fill="#e1e1e2"/><ellipse cx="16" cy="-4" rx="11" ry="16" fill="#fbfbfb" stroke="#cdcdcd" stroke-width="1"/><ellipse cx="16" cy="-4" rx="3.5" ry="6" fill="none" stroke="#bdbdbd" stroke-width="1.2"/></g></g>
<clipPath id="clipBtop"><polygon points="1023,482 1237.8,738.3 1410,653.5 1410,298.5"/></clipPath>
<g clip-path="url(#clipBtop)"><g transform="matrix(0.9036 -0.4284 0.6431 0.7658 1023.00 482.00)"><g transform="translate(382.5 192.1)">
<circle r="136.0" fill="#f3f3f3" stroke="#4a4a4a" stroke-width="1.1"/>
<circle r="122.4" fill="url(#boxdots)"/>
<g transform="rotate(-92.0)">
<path d="M62.6,-17.7 L117.0,-40.8 Q121.0,0 117.0,40.8 L62.6,17.7 Q59.8,0 62.6,-17.7 Z" fill="#f5f5f5" stroke="#4a4a4a" stroke-width="1" stroke-linejoin="round"/>
<rect x="122.4" y="-27.2" width="9.5" height="54.4" rx="4.8" fill="#f7f7f7" stroke="#4a4a4a" stroke-width="0.9"/>
</g>
<g transform="rotate(28.0)">
<path d="M62.6,-17.7 L117.0,-40.8 Q121.0,0 117.0,40.8 L62.6,17.7 Q59.8,0 62.6,-17.7 Z" fill="#f5f5f5" stroke="#4a4a4a" stroke-width="1" stroke-linejoin="round"/>
<rect x="122.4" y="-27.2" width="9.5" height="54.4" rx="4.8" fill="#f7f7f7" stroke="#4a4a4a" stroke-width="0.9"/>
</g>
<g transform="rotate(148.0)">
<path d="M62.6,-17.7 L117.0,-40.8 Q121.0,0 117.0,40.8 L62.6,17.7 Q59.8,0 62.6,-17.7 Z" fill="#f5f5f5" stroke="#4a4a4a" stroke-width="1" stroke-linejoin="round"/>
<rect x="122.4" y="-27.2" width="9.5" height="54.4" rx="4.8" fill="#f7f7f7" stroke="#4a4a4a" stroke-width="0.9"/>
</g>
<g transform="rotate(88.0)"><rect x="70.7" y="-32.6" width="29.9" height="65.3" fill="#f5f5f5" stroke="#8a8a8a" stroke-width="0.8"/></g>
<circle r="59.8" fill="#bfe2e5"/>
<circle r="49.0" fill="none" stroke="#a9d6da" stroke-width="1"/>
<circle r="39.4" fill="#f6f6f6"/>
</g></g></g>
<g transform="matrix(0.9036 -0.4284 0.6431 0.7658 1023.00 482.00)"><text transform="translate(9.5 53.0) rotate(-2.07)" font-size="19.2" font-weight="normal" fill="#2a9ba6" textLength="84.9" lengthAdjust="spacingAndGlyphs" >SUNLU</text>
<text transform="translate(10.5 109.6) rotate(-0.89)" font-size="30.3" font-weight="bold" fill="#111" textLength="216.7" lengthAdjust="spacingAndGlyphs" >3D PRINTING</text>
<text transform="translate(14.2 138.8) rotate(-2.37)" font-size="30.3" font-weight="bold" fill="#111" textLength="165.7" lengthAdjust="spacingAndGlyphs" >FILAMENT</text>
<text transform="translate(14.2 160.5) rotate(0.52)" font-size="11.8" font-weight="normal" fill="#333" textLength="164.2" lengthAdjust="spacingAndGlyphs" >Detachable &amp; Reusable Spool</text>
<text transform="translate(12.6 285.6) rotate(0.10)" font-size="11.8" font-weight="normal" fill="#333" textLength="159.0" lengthAdjust="spacingAndGlyphs" >Uniform Diameter Tolerance</text>
<text transform="translate(12.3 301.5) rotate(4.62)" font-size="13.3" font-weight="bold" fill="#111" textLength="56.4" lengthAdjust="spacingAndGlyphs" >1.75mm</text></g>
<clipPath id="clipAtop"><polygon points="1025.7,0 1188,185 1410,84 1410,0"/></clipPath>
<g clip-path="url(#clipAtop)"><g transform="matrix(0.9050 -0.4254 0.6569 0.7540 1025.70 0.00)"><g transform="translate(362.2 98.2)">
<circle r="136.0" fill="#f3f3f3" stroke="#4a4a4a" stroke-width="1.1"/>
<circle r="122.4" fill="url(#boxdots)"/>
<g transform="rotate(-92.0)">
<path d="M62.6,-17.7 L117.0,-40.8 Q121.0,0 117.0,40.8 L62.6,17.7 Q59.8,0 62.6,-17.7 Z" fill="#f5f5f5" stroke="#4a4a4a" stroke-width="1" stroke-linejoin="round"/>
<rect x="122.4" y="-27.2" width="9.5" height="54.4" rx="4.8" fill="#f7f7f7" stroke="#4a4a4a" stroke-width="0.9"/>
</g>
<g transform="rotate(28.0)">
<path d="M62.6,-17.7 L117.0,-40.8 Q121.0,0 117.0,40.8 L62.6,17.7 Q59.8,0 62.6,-17.7 Z" fill="#f5f5f5" stroke="#4a4a4a" stroke-width="1" stroke-linejoin="round"/>
<rect x="122.4" y="-27.2" width="9.5" height="54.4" rx="4.8" fill="#f7f7f7" stroke="#4a4a4a" stroke-width="0.9"/>
</g>
<g transform="rotate(148.0)">
<path d="M62.6,-17.7 L117.0,-40.8 Q121.0,0 117.0,40.8 L62.6,17.7 Q59.8,0 62.6,-17.7 Z" fill="#f5f5f5" stroke="#4a4a4a" stroke-width="1" stroke-linejoin="round"/>
<rect x="122.4" y="-27.2" width="9.5" height="54.4" rx="4.8" fill="#f7f7f7" stroke="#4a4a4a" stroke-width="0.9"/>
</g>
<g transform="rotate(88.0)"><rect x="70.7" y="-32.6" width="29.9" height="65.3" fill="#f5f5f5" stroke="#8a8a8a" stroke-width="0.8"/></g>
<circle r="59.8" fill="#bfe2e5"/>
<circle r="49.0" fill="none" stroke="#a9d6da" stroke-width="1"/>
<circle r="39.4" fill="#f6f6f6"/>
</g></g></g>
<g transform="matrix(0.9050 -0.4254 0.6569 0.7540 1025.70 0.00)"><g transform="translate(108.0 217.0) rotate(-2)"><rect x="-28.0" y="-6.0" width="56.0" height="12.0" rx="6.0" fill="#1f9eab"/><text x="0" y="4.0" font-size="8.6" font-weight="bold" fill="#e8fbfc" text-anchor="middle">± 0.02mm</text></g><g transform="translate(48.1 161.1) scale(0.950)"><ellipse cx="-14" cy="2" rx="12" ry="16" fill="#fafafa" stroke="#cfcfcf" stroke-width="1"/><rect x="-14" y="-11" width="20" height="24" rx="4" fill="#c9c9cb"/><rect x="-10" y="-7" width="12" height="16" fill="#e1e1e2"/><ellipse cx="16" cy="-4" rx="11" ry="16" fill="#fbfbfb" stroke="#cdcdcd" stroke-width="1"/><ellipse cx="16" cy="-4" rx="3.5" ry="6" fill="none" stroke="#bdbdbd" stroke-width="1.2"/></g><text transform="translate(14.6 45.8) rotate(-0.90)" font-size="30.4" font-weight="bold" fill="#111" textLength="215.7" lengthAdjust="spacingAndGlyphs" >3D PRINTING</text>
<text transform="translate(16.5 72.6) rotate(-2.58)" font-size="30.4" font-weight="bold" fill="#111" textLength="166.0" lengthAdjust="spacingAndGlyphs" >FILAMENT</text>
<text transform="translate(18.0 93.2) rotate(0.32)" font-size="11.9" font-weight="normal" fill="#333" textLength="164.3" lengthAdjust="spacingAndGlyphs" >Detachable &amp; Reusable Spool</text>
<text transform="translate(19.3 202.5) rotate(0.50)" font-size="11.1" font-weight="normal" fill="#333" textLength="142.3" lengthAdjust="spacingAndGlyphs" >Uniform Diameter Tolerance</text>
<text transform="translate(19.3 218.3) rotate(3.21)" font-size="12.6" font-weight="bold" fill="#111" textLength="50.7" lengthAdjust="spacingAndGlyphs" >1.75mm</text></g>
<clipPath id="clipCtop"><polygon points="0,371.5 218,270.1 401.8,432 126,563.4 0,447"/></clipPath>
<g clip-path="url(#clipCtop)"><g transform="matrix(0.9067 -0.4217 0.7345 0.6786 0.00 447.00)"><g transform="translate(283.6 62.4)">
<circle r="104.0" fill="#f3f3f3" stroke="#4a4a4a" stroke-width="1.1"/>
<circle r="93.6" fill="url(#boxdots)"/>
<g transform="rotate(-85.0)">
<path d="M47.8,-13.5 L89.4,-31.2 Q92.6,0 89.4,31.2 L47.8,13.5 Q45.8,0 47.8,-13.5 Z" fill="#f5f5f5" stroke="#4a4a4a" stroke-width="1" stroke-linejoin="round"/>
<rect x="93.6" y="-20.8" width="7.3" height="41.6" rx="3.6" fill="#f7f7f7" stroke="#4a4a4a" stroke-width="0.9"/>
</g>
<g transform="rotate(35.0)">
<path d="M47.8,-13.5 L89.4,-31.2 Q92.6,0 89.4,31.2 L47.8,13.5 Q45.8,0 47.8,-13.5 Z" fill="#f5f5f5" stroke="#4a4a4a" stroke-width="1" stroke-linejoin="round"/>
<rect x="93.6" y="-20.8" width="7.3" height="41.6" rx="3.6" fill="#f7f7f7" stroke="#4a4a4a" stroke-width="0.9"/>
</g>
<g transform="rotate(155.0)">
<path d="M47.8,-13.5 L89.4,-31.2 Q92.6,0 89.4,31.2 L47.8,13.5 Q45.8,0 47.8,-13.5 Z" fill="#f5f5f5" stroke="#4a4a4a" stroke-width="1" stroke-linejoin="round"/>
<rect x="93.6" y="-20.8" width="7.3" height="41.6" rx="3.6" fill="#f7f7f7" stroke="#4a4a4a" stroke-width="0.9"/>
</g>
<g transform="rotate(95.0)"><rect x="54.1" y="-25.0" width="22.9" height="49.9" fill="#f5f5f5" stroke="#8a8a8a" stroke-width="0.8"/></g>
<circle r="45.8" fill="#bfe2e5"/>
<circle r="37.4" fill="none" stroke="#a9d6da" stroke-width="1"/>
<circle r="30.2" fill="#f6f6f6"/>
</g></g></g>
<g transform="matrix(0.9067 -0.4217 0.7345 0.6786 0.00 447.00)"><g transform="translate(64.0 147.0) rotate(-2)"><rect x="-23.0" y="-5.2" width="46.0" height="10.5" rx="5.2" fill="#1f9eab"/><text x="0" y="3.5" font-size="7.6" font-weight="bold" fill="#e8fbfc" text-anchor="middle">± 0.02mm</text></g><g transform="translate(26.7 99.1) scale(0.750)"><ellipse cx="-14" cy="2" rx="12" ry="16" fill="#fafafa" stroke="#cfcfcf" stroke-width="1"/><rect x="-14" y="-11" width="20" height="24" rx="4" fill="#c9c9cb"/><rect x="-10" y="-7" width="12" height="16" fill="#e1e1e2"/><ellipse cx="16" cy="-4" rx="11" ry="16" fill="#fbfbfb" stroke="#cdcdcd" stroke-width="1"/><ellipse cx="16" cy="-4" rx="3.5" ry="6" fill="none" stroke="#bdbdbd" stroke-width="1.2"/></g><text transform="translate(-2.3 -51.6) rotate(9.63)" font-size="17.0" font-weight="normal" fill="#2a9ba6" textLength="72.8" lengthAdjust="spacingAndGlyphs" >SUNLU</text>
<text transform="translate(7.2 3.3) rotate(-0.66)" font-size="23.9" font-weight="bold" fill="#111" textLength="156.0" lengthAdjust="spacingAndGlyphs" >3D PRINTING</text>
<text transform="translate(5.1 26.1) rotate(-2.40)" font-size="23.9" font-weight="bold" fill="#111" textLength="122.5" lengthAdjust="spacingAndGlyphs" >FILAMENT</text>
<text transform="translate(3.3 42.6) rotate(-0.43)" font-size="10.0" font-weight="normal" fill="#333" textLength="122.3" lengthAdjust="spacingAndGlyphs" >Detachable &amp; Reusable Spool</text>
<text transform="translate(-0.5 134.5) rotate(0.09)" font-size="10.0" font-weight="normal" fill="#333" textLength="109.8" lengthAdjust="spacingAndGlyphs" >Uniform Diameter Tolerance</text>
<text transform="translate(-9.6 148.0) rotate(-0.37)" font-size="10.8" font-weight="bold" fill="#111" textLength="44.4" lengthAdjust="spacingAndGlyphs" >1.75mm</text></g>
<clipPath id="clipDtop"><polygon points="0,652.6 16.8,643.4 202.9,826.5 0,931.8"/></clipPath>
<g clip-path="url(#clipDtop)"><g transform="matrix(0.7128 0.7013 -0.8876 0.4606 16.80 643.40)"><g transform="translate(143.1 27.3)">
<circle r="102.0" fill="#f3f3f3" stroke="#4a4a4a" stroke-width="1.1"/>
<circle r="91.8" fill="url(#boxdots)"/>
<g transform="rotate(-176.0)">
<path d="M46.9,-13.3 L87.7,-30.6 Q90.8,0 87.7,30.6 L46.9,13.3 Q44.9,0 46.9,-13.3 Z" fill="#f5f5f5" stroke="#4a4a4a" stroke-width="1" stroke-linejoin="round"/>
<rect x="91.8" y="-20.4" width="7.1" height="40.8" rx="3.6" fill="#f7f7f7" stroke="#4a4a4a" stroke-width="0.9"/>
</g>
<g transform="rotate(-56.0)">
<path d="M46.9,-13.3 L87.7,-30.6 Q90.8,0 87.7,30.6 L46.9,13.3 Q44.9,0 46.9,-13.3 Z" fill="#f5f5f5" stroke="#4a4a4a" stroke-width="1" stroke-linejoin="round"/>
<rect x="91.8" y="-20.4" width="7.1" height="40.8" rx="3.6" fill="#f7f7f7" stroke="#4a4a4a" stroke-width="0.9"/>
</g>
<g transform="rotate(64.0)">
<path d="M46.9,-13.3 L87.7,-30.6 Q90.8,0 87.7,30.6 L46.9,13.3 Q44.9,0 46.9,-13.3 Z" fill="#f5f5f5" stroke="#4a4a4a" stroke-width="1" stroke-linejoin="round"/>
<rect x="91.8" y="-20.4" width="7.1" height="40.8" rx="3.6" fill="#f7f7f7" stroke="#4a4a4a" stroke-width="0.9"/>
</g>
<g transform="rotate(4.0)"><rect x="53.0" y="-24.5" width="22.4" height="49.0" fill="#f5f5f5" stroke="#8a8a8a" stroke-width="0.8"/></g>
<circle r="44.9" fill="#bfe2e5"/>
<circle r="36.7" fill="none" stroke="#a9d6da" stroke-width="1"/>
<circle r="29.6" fill="#f6f6f6"/>
</g></g></g>
<g transform="matrix(0.6431 0.7658 0.0957 0.9954 1023.00 482.00)"><g transform="translate(81.6 36.7)"><rect width="26.0" height="40.0" fill="#f4f4f4"/><rect x="1.73" y="2.67" width="1.78" height="2.72" fill="#262626"/><rect x="1.73" y="5.33" width="1.78" height="2.72" fill="#262626"/><rect x="1.73" y="8.00" width="1.78" height="2.72" fill="#262626"/><rect x="1.73" y="10.67" width="1.78" height="2.72" fill="#262626"/><rect x="1.73" y="13.33" width="1.78" height="2.72" fill="#262626"/><rect x="1.73" y="16.00" width="1.78" height="2.72" fill="#262626"/><rect x="1.73" y="18.67" width="1.78" height="2.72" fill="#262626"/><rect x="1.73" y="21.33" width="1.78" height="2.72" fill="#262626"/><rect x="1.73" y="24.00" width="1.78" height="2.72" fill="#262626"/><rect x="1.73" y="26.67" width="1.78" height="2.72" fill="#262626"/><rect x="1.73" y="29.33" width="1.78" height="2.72" fill="#262626"/><rect x="1.73" y="32.00" width="1.78" height="2.72" fill="#262626"/><rect x="1.73" y="34.67" width="1.78" height="2.72" fill="#262626"/><rect x="3.47" y="2.67" width="1.78" height="2.72" fill="#262626"/><rect x="3.47" y="18.67" width="1.78" height="2.72" fill="#262626"/><rect x="3.47" y="34.67" width="1.78" height="2.72" fill="#262626"/><rect x="5.20" y="2.67" width="1.78" height="2.72" fill="#262626"/><rect x="5.20" y="8.00" width="1.78" height="2.72" fill="#262626"/><rect x="5.20" y="10.67" width="1.78" height="2.72" fill="#262626"/><rect x="5.20" y="13.33" width="1.78" height="2.72" fill="#262626"/><rect x="5.20" y="18.67" width="1.78" height="2.72" fill="#262626"/><rect x="5.20" y="24.00" width="1.78" height="2.72" fill="#262626"/><rect x="5.20" y="26.67" width="1.78" height="2.72" fill="#262626"/><rect x="5.20" y="29.33" width="1.78" height="2.72" fill="#262626"/><rect x="5.20" y="34.67" width="1.78" height="2.72" fill="#262626"/><rect x="6.93" y="2.67" width="1.78" height="2.72" fill="#262626"/><rect x="6.93" y="8.00" width="1.78" height="2.72" fill="#262626"/><rect x="6.93" y="10.67" width="1.78" height="2.72" fill="#262626"/><rect x="6.93" y="13.33" width="1.78" height="2.72" fill="#262626"/><rect x="6.93" y="18.67" width="1.78" height="2.72" fill="#262626"/><rect x="6.93" y="24.00" width="1.78" height="2.72" fill="#262626"/><rect x="6.93" y="26.67" width="1.78" height="2.72" fill="#262626"/><rect x="6.93" y="29.33" width="1.78" height="2.72" fill="#262626"/><rect x="6.93" y="34.67" width="1.78" height="2.72" fill="#262626"/><rect x="8.67" y="2.67" width="1.78" height="2.72" fill="#262626"/><rect x="8.67" y="8.00" width="1.78" height="2.72" fill="#262626"/><rect x="8.67" y="10.67" width="1.78" height="2.72" fill="#262626"/><rect x="8.67" y="13.33" width="1.78" height="2.72" fill="#262626"/><rect x="8.67" y="18.67" width="1.78" height="2.72" fill="#262626"/><rect x="8.67" y="24.00" width="1.78" height="2.72" fill="#262626"/><rect x="8.67" y="26.67" width="1.78" height="2.72" fill="#262626"/><rect x="8.67" y="29.33" width="1.78" height="2.72" fill="#262626"/><rect x="8.67" y="34.67" width="1.78" height="2.72" fill="#262626"/><rect x="10.40" y="2.67" width="1.78" height="2.72" fill="#262626"/><rect x="10.40" y="18.67" width="1.78" height="2.72" fill="#262626"/><rect x="10.40" y="34.67" width="1.78" height="2.72" fill="#262626"/><rect x="12.13" y="2.67" width="1.78" height="2.72" fill="#262626"/><rect x="12.13" y="5.33" width="1.78" height="2.72" fill="#262626"/><rect x="12.13" y="8.00" width="1.78" height="2.72" fill="#262626"/><rect x="12.13" y="10.67" width="1.78" height="2.72" fill="#262626"/><rect x="12.13" y="13.33" width="1.78" height="2.72" fill="#262626"/><rect x="12.13" y="16.00" width="1.78" height="2.72" fill="#262626"/><rect x="12.13" y="18.67" width="1.78" height="2.72" fill="#262626"/><rect x="12.13" y="21.33" width="1.78" height="2.72" fill="#262626"/><rect x="12.13" y="24.00" width="1.78" height="2.72" fill="#262626"/><rect x="12.13" y="26.67" width="1.78" height="2.72" fill="#262626"/><rect x="12.13" y="29.33" width="1.78" height="2.72" fill="#262626"/><rect x="12.13" y="32.00" width="1.78" height="2.72" fill="#262626"/><rect x="12.13" y="34.67" width="1.78" height="2.72" fill="#262626"/><rect x="13.87" y="2.67" width="1.78" height="2.72" fill="#262626"/><rect x="13.87" y="18.67" width="1.78" height="2.72" fill="#262626"/><rect x="15.60" y="2.67" width="1.78" height="2.72" fill="#262626"/><rect x="15.60" y="8.00" width="1.78" height="2.72" fill="#262626"/><rect x="15.60" y="10.67" width="1.78" height="2.72" fill="#262626"/><rect x="15.60" y="13.33" width="1.78" height="2.72" fill="#262626"/><rect x="15.60" y="18.67" width="1.78" height="2.72" fill="#262626"/><rect x="15.60" y="24.00" width="1.78" height="2.72" fill="#262626"/><rect x="15.60" y="29.33" width="1.78" height="2.72" fill="#262626"/><rect x="17.33" y="2.67" width="1.78" height="2.72" fill="#262626"/><rect x="17.33" y="8.00" width="1.78" height="2.72" fill="#262626"/><rect x="17.33" y="10.67" width="1.78" height="2.72" fill="#262626"/><rect x="17.33" y="13.33" width="1.78" height="2.72" fill="#262626"/><rect x="17.33" y="18.67" width="1.78" height="2.72" fill="#262626"/><rect x="17.33" y="24.00" width="1.78" height="2.72" fill="#262626"/><rect x="17.33" y="26.67" width="1.78" height="2.72" fill="#262626"/><rect x="17.33" y="32.00" width="1.78" height="2.72" fill="#262626"/><rect x="17.33" y="34.67" width="1.78" height="2.72" fill="#262626"/><rect x="19.07" y="2.67" width="1.78" height="2.72" fill="#262626"/><rect x="19.07" y="8.00" width="1.78" height="2.72" fill="#262626"/><rect x="19.07" y="10.67" width="1.78" height="2.72" fill="#262626"/><rect x="19.07" y="13.33" width="1.78" height="2.72" fill="#262626"/><rect x="19.07" y="18.67" width="1.78" height="2.72" fill="#262626"/><rect x="20.80" y="2.67" width="1.78" height="2.72" fill="#262626"/><rect x="20.80" y="18.67" width="1.78" height="2.72" fill="#262626"/><rect x="20.80" y="24.00" width="1.78" height="2.72" fill="#262626"/><rect x="22.53" y="2.67" width="1.78" height="2.72" fill="#262626"/><rect x="22.53" y="5.33" width="1.78" height="2.72" fill="#262626"/><rect x="22.53" y="8.00" width="1.78" height="2.72" fill="#262626"/><rect x="22.53" y="10.67" width="1.78" height="2.72" fill="#262626"/><rect x="22.53" y="13.33" width="1.78" height="2.72" fill="#262626"/><rect x="22.53" y="16.00" width="1.78" height="2.72" fill="#262626"/><rect x="22.53" y="18.67" width="1.78" height="2.72" fill="#262626"/><rect x="22.53" y="26.67" width="1.78" height="2.72" fill="#262626"/><rect x="22.53" y="34.67" width="1.78" height="2.72" fill="#262626"/></g></g>
<g transform="matrix(0.6569 0.7540 0.1200 0.9928 1025.70 0.00)"><g transform="translate(26.1 34.6)"><rect width="24.0" height="38.0" fill="#f4f4f4"/><rect x="1.60" y="2.53" width="1.65" height="2.58" fill="#262626"/><rect x="1.60" y="5.07" width="1.65" height="2.58" fill="#262626"/><rect x="1.60" y="7.60" width="1.65" height="2.58" fill="#262626"/><rect x="1.60" y="10.13" width="1.65" height="2.58" fill="#262626"/><rect x="1.60" y="12.67" width="1.65" height="2.58" fill="#262626"/><rect x="1.60" y="15.20" width="1.65" height="2.58" fill="#262626"/><rect x="1.60" y="17.73" width="1.65" height="2.58" fill="#262626"/><rect x="1.60" y="20.27" width="1.65" height="2.58" fill="#262626"/><rect x="1.60" y="22.80" width="1.65" height="2.58" fill="#262626"/><rect x="1.60" y="25.33" width="1.65" height="2.58" fill="#262626"/><rect x="1.60" y="27.87" width="1.65" height="2.58" fill="#262626"/><rect x="1.60" y="30.40" width="1.65" height="2.58" fill="#262626"/><rect x="1.60" y="32.93" width="1.65" height="2.58" fill="#262626"/><rect x="3.20" y="2.53" width="1.65" height="2.58" fill="#262626"/><rect x="3.20" y="17.73" width="1.65" height="2.58" fill="#262626"/><rect x="3.20" y="32.93" width="1.65" height="2.58" fill="#262626"/><rect x="4.80" y="2.53" width="1.65" height="2.58" fill="#262626"/><rect x="4.80" y="7.60" width="1.65" height="2.58" fill="#262626"/><rect x="4.80" y="10.13" width="1.65" height="2.58" fill="#262626"/><rect x="4.80" y="12.67" width="1.65" height="2.58" fill="#262626"/><rect x="4.80" y="17.73" width="1.65" height="2.58" fill="#262626"/><rect x="4.80" y="22.80" width="1.65" height="2.58" fill="#262626"/><rect x="4.80" y="25.33" width="1.65" height="2.58" fill="#262626"/><rect x="4.80" y="27.87" width="1.65" height="2.58" fill="#262626"/><rect x="4.80" y="32.93" width="1.65" height="2.58" fill="#262626"/><rect x="6.40" y="2.53" width="1.65" height="2.58" fill="#262626"/><rect x="6.40" y="7.60" width="1.65" height="2.58" fill="#262626"/><rect x="6.40" y="10.13" width="1.65" height="2.58" fill="#262626"/><rect x="6.40" y="12.67" width="1.65" height="2.58" fill="#262626"/><rect x="6.40" y="17.73" width="1.65" height="2.58" fill="#262626"/><rect x="6.40" y="22.80" width="1.65" height="2.58" fill="#262626"/><rect x="6.40" y="25.33" width="1.65" height="2.58" fill="#262626"/><rect x="6.40" y="27.87" width="1.65" height="2.58" fill="#262626"/><rect x="6.40" y="32.93" width="1.65" height="2.58" fill="#262626"/><rect x="8.00" y="2.53" width="1.65" height="2.58" fill="#262626"/><rect x="8.00" y="7.60" width="1.65" height="2.58" fill="#262626"/><rect x="8.00" y="10.13" width="1.65" height="2.58" fill="#262626"/><rect x="8.00" y="12.67" width="1.65" height="2.58" fill="#262626"/><rect x="8.00" y="17.73" width="1.65" height="2.58" fill="#262626"/><rect x="8.00" y="22.80" width="1.65" height="2.58" fill="#262626"/><rect x="8.00" y="25.33" width="1.65" height="2.58" fill="#262626"/><rect x="8.00" y="27.87" width="1.65" height="2.58" fill="#262626"/><rect x="8.00" y="32.93" width="1.65" height="2.58" fill="#262626"/><rect x="9.60" y="2.53" width="1.65" height="2.58" fill="#262626"/><rect x="9.60" y="17.73" width="1.65" height="2.58" fill="#262626"/><rect x="9.60" y="32.93" width="1.65" height="2.58" fill="#262626"/><rect x="11.20" y="2.53" width="1.65" height="2.58" fill="#262626"/><rect x="11.20" y="5.07" width="1.65" height="2.58" fill="#262626"/><rect x="11.20" y="7.60" width="1.65" height="2.58" fill="#262626"/><rect x="11.20" y="10.13" width="1.65" height="2.58" fill="#262626"/><rect x="11.20" y="12.67" width="1.65" height="2.58" fill="#262626"/><rect x="11.20" y="15.20" width="1.65" height="2.58" fill="#262626"/><rect x="11.20" y="17.73" width="1.65" height="2.58" fill="#262626"/><rect x="11.20" y="20.27" width="1.65" height="2.58" fill="#262626"/><rect x="11.20" y="22.80" width="1.65" height="2.58" fill="#262626"/><rect x="11.20" y="25.33" width="1.65" height="2.58" fill="#262626"/><rect x="11.20" y="27.87" width="1.65" height="2.58" fill="#262626"/><rect x="11.20" y="30.40" width="1.65" height="2.58" fill="#262626"/><rect x="11.20" y="32.93" width="1.65" height="2.58" fill="#262626"/><rect x="12.80" y="2.53" width="1.65" height="2.58" fill="#262626"/><rect x="12.80" y="17.73" width="1.65" height="2.58" fill="#262626"/><rect x="14.40" y="2.53" width="1.65" height="2.58" fill="#262626"/><rect x="14.40" y="7.60" width="1.65" height="2.58" fill="#262626"/><rect x="14.40" y="10.13" width="1.65" height="2.58" fill="#262626"/><rect x="14.40" y="12.67" width="1.65" height="2.58" fill="#262626"/><rect x="14.40" y="17.73" width="1.65" height="2.58" fill="#262626"/><rect x="16.00" y="2.53" width="1.65" height="2.58" fill="#262626"/><rect x="16.00" y="7.60" width="1.65" height="2.58" fill="#262626"/><rect x="16.00" y="10.13" width="1.65" height="2.58" fill="#262626"/><rect x="16.00" y="12.67" width="1.65" height="2.58" fill="#262626"/><rect x="16.00" y="17.73" width="1.65" height="2.58" fill="#262626"/><rect x="16.00" y="25.33" width="1.65" height="2.58" fill="#262626"/><rect x="17.60" y="2.53" width="1.65" height="2.58" fill="#262626"/><rect x="17.60" y="7.60" width="1.65" height="2.58" fill="#262626"/><rect x="17.60" y="10.13" width="1.65" height="2.58" fill="#262626"/><rect x="17.60" y="12.67" width="1.65" height="2.58" fill="#262626"/><rect x="17.60" y="17.73" width="1.65" height="2.58" fill="#262626"/><rect x="17.60" y="25.33" width="1.65" height="2.58" fill="#262626"/><rect x="17.60" y="30.40" width="1.65" height="2.58" fill="#262626"/><rect x="19.20" y="2.53" width="1.65" height="2.58" fill="#262626"/><rect x="19.20" y="17.73" width="1.65" height="2.58" fill="#262626"/><rect x="19.20" y="25.33" width="1.65" height="2.58" fill="#262626"/><rect x="19.20" y="27.87" width="1.65" height="2.58" fill="#262626"/><rect x="19.20" y="30.40" width="1.65" height="2.58" fill="#262626"/><rect x="20.80" y="2.53" width="1.65" height="2.58" fill="#262626"/><rect x="20.80" y="5.07" width="1.65" height="2.58" fill="#262626"/><rect x="20.80" y="7.60" width="1.65" height="2.58" fill="#262626"/><rect x="20.80" y="10.13" width="1.65" height="2.58" fill="#262626"/><rect x="20.80" y="12.67" width="1.65" height="2.58" fill="#262626"/><rect x="20.80" y="15.20" width="1.65" height="2.58" fill="#262626"/><rect x="20.80" y="17.73" width="1.65" height="2.58" fill="#262626"/><rect x="20.80" y="25.33" width="1.65" height="2.58" fill="#262626"/><rect x="20.80" y="30.40" width="1.65" height="2.58" fill="#262626"/></g></g>
<g transform="matrix(0.7345 0.6786 0.0000 1.0000 0.00 447.00)"><g transform="translate(-24.5 39.6)"><rect width="26.0" height="38.0" fill="#f4f4f4"/><rect x="1.73" y="2.53" width="1.78" height="2.58" fill="#262626"/><rect x="1.73" y="5.07" width="1.78" height="2.58" fill="#262626"/><rect x="1.73" y="7.60" width="1.78" height="2.58" fill="#262626"/><rect x="1.73" y="10.13" width="1.78" height="2.58" fill="#262626"/><rect x="1.73" y="12.67" width="1.78" height="2.58" fill="#262626"/><rect x="1.73" y="15.20" width="1.78" height="2.58" fill="#262626"/><rect x="1.73" y="17.73" width="1.78" height="2.58" fill="#262626"/><rect x="1.73" y="20.27" width="1.78" height="2.58" fill="#262626"/><rect x="1.73" y="22.80" width="1.78" height="2.58" fill="#262626"/><rect x="1.73" y="25.33" width="1.78" height="2.58" fill="#262626"/><rect x="1.73" y="27.87" width="1.78" height="2.58" fill="#262626"/><rect x="1.73" y="30.40" width="1.78" height="2.58" fill="#262626"/><rect x="1.73" y="32.93" width="1.78" height="2.58" fill="#262626"/><rect x="3.47" y="2.53" width="1.78" height="2.58" fill="#262626"/><rect x="3.47" y="17.73" width="1.78" height="2.58" fill="#262626"/><rect x="3.47" y="32.93" width="1.78" height="2.58" fill="#262626"/><rect x="5.20" y="2.53" width="1.78" height="2.58" fill="#262626"/><rect x="5.20" y="7.60" width="1.78" height="2.58" fill="#262626"/><rect x="5.20" y="10.13" width="1.78" height="2.58" fill="#262626"/><rect x="5.20" y="12.67" width="1.78" height="2.58" fill="#262626"/><rect x="5.20" y="17.73" width="1.78" height="2.58" fill="#262626"/><rect x="5.20" y="22.80" width="1.78" height="2.58" fill="#262626"/><rect x="5.20" y="25.33" width="1.78" height="2.58" fill="#262626"/><rect x="5.20" y="27.87" width="1.78" height="2.58" fill="#262626"/><rect x="5.20" y="32.93" width="1.78" height="2.58" fill="#262626"/><rect x="6.93" y="2.53" width="1.78" height="2.58" fill="#262626"/><rect x="6.93" y="7.60" width="1.78" height="2.58" fill="#262626"/><rect x="6.93" y="10.13" width="1.78" height="2.58" fill="#262626"/><rect x="6.93" y="12.67" width="1.78" height="2.58" fill="#262626"/><rect x="6.93" y="17.73" width="1.78" height="2.58" fill="#262626"/><rect x="6.93" y="22.80" width="1.78" height="2.58" fill="#262626"/><rect x="6.93" y="25.33" width="1.78" height="2.58" fill="#262626"/><rect x="6.93" y="27.87" width="1.78" height="2.58" fill="#262626"/><rect x="6.93" y="32.93" width="1.78" height="2.58" fill="#262626"/><rect x="8.67" y="2.53" width="1.78" height="2.58" fill="#262626"/><rect x="8.67" y="7.60" width="1.78" height="2.58" fill="#262626"/><rect x="8.67" y="10.13" width="1.78" height="2.58" fill="#262626"/><rect x="8.67" y="12.67" width="1.78" height="2.58" fill="#262626"/><rect x="8.67" y="17.73" width="1.78" height="2.58" fill="#262626"/><rect x="8.67" y="22.80" width="1.78" height="2.58" fill="#262626"/><rect x="8.67" y="25.33" width="1.78" height="2.58" fill="#262626"/><rect x="8.67" y="27.87" width="1.78" height="2.58" fill="#262626"/><rect x="8.67" y="32.93" width="1.78" height="2.58" fill="#262626"/><rect x="10.40" y="2.53" width="1.78" height="2.58" fill="#262626"/><rect x="10.40" y="17.73" width="1.78" height="2.58" fill="#262626"/><rect x="10.40" y="32.93" width="1.78" height="2.58" fill="#262626"/><rect x="12.13" y="2.53" width="1.78" height="2.58" fill="#262626"/><rect x="12.13" y="5.07" width="1.78" height="2.58" fill="#262626"/><rect x="12.13" y="7.60" width="1.78" height="2.58" fill="#262626"/><rect x="12.13" y="10.13" width="1.78" height="2.58" fill="#262626"/><rect x="12.13" y="12.67" width="1.78" height="2.58" fill="#262626"/><rect x="12.13" y="15.20" width="1.78" height="2.58" fill="#262626"/><rect x="12.13" y="17.73" width="1.78" height="2.58" fill="#262626"/><rect x="12.13" y="20.27" width="1.78" height="2.58" fill="#262626"/><rect x="12.13" y="22.80" width="1.78" height="2.58" fill="#262626"/><rect x="12.13" y="25.33" width="1.78" height="2.58" fill="#262626"/><rect x="12.13" y="27.87" width="1.78" height="2.58" fill="#262626"/><rect x="12.13" y="30.40" width="1.78" height="2.58" fill="#262626"/><rect x="12.13" y="32.93" width="1.78" height="2.58" fill="#262626"/><rect x="13.87" y="2.53" width="1.78" height="2.58" fill="#262626"/><rect x="13.87" y="17.73" width="1.78" height="2.58" fill="#262626"/><rect x="15.60" y="2.53" width="1.78" height="2.58" fill="#262626"/><rect x="15.60" y="7.60" width="1.78" height="2.58" fill="#262626"/><rect x="15.60" y="10.13" width="1.78" height="2.58" fill="#262626"/><rect x="15.60" y="12.67" width="1.78" height="2.58" fill="#262626"/><rect x="15.60" y="17.73" width="1.78" height="2.58" fill="#262626"/><rect x="15.60" y="22.80" width="1.78" height="2.58" fill="#262626"/><rect x="15.60" y="25.33" width="1.78" height="2.58" fill="#262626"/><rect x="15.60" y="30.40" width="1.78" height="2.58" fill="#262626"/><rect x="17.33" y="2.53" width="1.78" height="2.58" fill="#262626"/><rect x="17.33" y="7.60" width="1.78" height="2.58" fill="#262626"/><rect x="17.33" y="10.13" width="1.78" height="2.58" fill="#262626"/><rect x="17.33" y="12.67" width="1.78" height="2.58" fill="#262626"/><rect x="17.33" y="17.73" width="1.78" height="2.58" fill="#262626"/><rect x="17.33" y="22.80" width="1.78" height="2.58" fill="#262626"/><rect x="17.33" y="25.33" width="1.78" height="2.58" fill="#262626"/><rect x="17.33" y="30.40" width="1.78" height="2.58" fill="#262626"/><rect x="17.33" y="32.93" width="1.78" height="2.58" fill="#262626"/><rect x="19.07" y="2.53" width="1.78" height="2.58" fill="#262626"/><rect x="19.07" y="7.60" width="1.78" height="2.58" fill="#262626"/><rect x="19.07" y="10.13" width="1.78" height="2.58" fill="#262626"/><rect x="19.07" y="12.67" width="1.78" height="2.58" fill="#262626"/><rect x="19.07" y="17.73" width="1.78" height="2.58" fill="#262626"/><rect x="19.07" y="22.80" width="1.78" height="2.58" fill="#262626"/><rect x="19.07" y="25.33" width="1.78" height="2.58" fill="#262626"/><rect x="19.07" y="27.87" width="1.78" height="2.58" fill="#262626"/><rect x="19.07" y="32.93" width="1.78" height="2.58" fill="#262626"/><rect x="20.80" y="2.53" width="1.78" height="2.58" fill="#262626"/><rect x="20.80" y="17.73" width="1.78" height="2.58" fill="#262626"/><rect x="20.80" y="22.80" width="1.78" height="2.58" fill="#262626"/><rect x="20.80" y="32.93" width="1.78" height="2.58" fill="#262626"/><rect x="22.53" y="2.53" width="1.78" height="2.58" fill="#262626"/><rect x="22.53" y="5.07" width="1.78" height="2.58" fill="#262626"/><rect x="22.53" y="7.60" width="1.78" height="2.58" fill="#262626"/><rect x="22.53" y="10.13" width="1.78" height="2.58" fill="#262626"/><rect x="22.53" y="12.67" width="1.78" height="2.58" fill="#262626"/><rect x="22.53" y="15.20" width="1.78" height="2.58" fill="#262626"/><rect x="22.53" y="17.73" width="1.78" height="2.58" fill="#262626"/><rect x="22.53" y="25.33" width="1.78" height="2.58" fill="#262626"/><rect x="22.53" y="30.40" width="1.78" height="2.58" fill="#262626"/><rect x="22.53" y="32.93" width="1.78" height="2.58" fill="#262626"/></g></g>
<g transform="matrix(0.6431 0.7658 0.0957 0.9954 1023.00 482.00)"><text transform="translate(280.4 100.7) rotate(-90)" font-size="15.0" fill="#c4f1f4" textLength="62.0" lengthAdjust="spacingAndGlyphs" font-weight="bold" letter-spacing="1.5">SUNLU</text></g>
<g transform="matrix(0.6569 0.7540 0.1200 0.9928 1025.70 0.00)"><text transform="translate(199.0 96.7) rotate(-90)" font-size="14.0" fill="#c4f1f4" textLength="60.0" lengthAdjust="spacingAndGlyphs" font-weight="bold" letter-spacing="1.5">SUNLU</text></g>
<g transform="matrix(0.7345 0.6786 0.0000 1.0000 0.00 447.00)"><text transform="translate(136.1 74.6) rotate(-90)" font-size="12.0" fill="#c4f1f4" textLength="50.0" lengthAdjust="spacingAndGlyphs" font-weight="bold" letter-spacing="1.5">SUNLU</text></g>
<defs>
<pattern id="fdots" width="11.4" height="8.4" patternUnits="userSpaceOnUse" patternTransform="translate(2 1) rotate(-5)">
<circle cx="2.9" cy="2.1" r="1.6" fill="#0d0f19"/><circle cx="8.6" cy="6.3" r="1.6" fill="#0d0f19"/></pattern>
<pattern id="fdots2" width="9.6" height="7.8" patternUnits="userSpaceOnUse" patternTransform="translate(4 3)">
<circle cx="4.8" cy="3.9" r="2.05" fill="#0d0f19"/></pattern>
<pattern id="wlines" width="4.2" height="40" patternUnits="userSpaceOnUse">
<rect width="4.2" height="40" fill="#1b1b1e"/><rect x="1.2" width="1.5" height="40" fill="#77746a"/></pattern>
<pattern id="blines" width="40" height="3.2" patternUnits="userSpaceOnUse">
<rect width="40" height="3.2" fill="#131417"/><rect y="1.2" width="40" height="0.9" fill="#323338"/></pattern>
<pattern id="bfdots" width="9" height="9" patternUnits="userSpaceOnUse"><circle cx="4.5" cy="4.5" r="2.3" fill="#8f93a2"/></pattern>
<radialGradient id="flface" cx="728" cy="470" r="260" gradientUnits="userSpaceOnUse" gradientTransform="translate(728 470) scale(1 0.8) translate(-728 -470)">
<stop offset="0" stop-color="#7a7f93"/><stop offset="0.55" stop-color="#6f7488"/><stop offset="1" stop-color="#5d6276"/></radialGradient>
<linearGradient id="hubwall" x1="667" y1="0" x2="789" y2="0" gradientUnits="userSpaceOnUse">
<stop offset="0" stop-color="#5b5f6f"/><stop offset="0.3" stop-color="#9094a5"/><stop offset="0.6" stop-color="#9ea2b2"/><stop offset="1" stop-color="#5e6272"/></linearGradient>
<clipPath id="flclip"><ellipse cx="728" cy="519" rx="212" ry="156"/></clipPath>
<clipPath id="hubclip"><ellipse cx="728" cy="512.8" rx="60.6" ry="44"/></clipPath>
</defs>
<g id="spool">
<ellipse cx="728" cy="651" rx="207" ry="132" fill="#1b1e2d" stroke="#9296a6" stroke-width="1.4"/>
<ellipse cx="728" cy="651" rx="207" ry="132" fill="url(#bfdots)" opacity="0.0"/>
<circle cx="895.5" cy="705.8" r="2.2" fill="#a2a5b5"/><circle cx="890.0" cy="711.8" r="2.2" fill="#a2a5b5"/><circle cx="883.9" cy="717.6" r="2.2" fill="#a2a5b5"/><circle cx="877.2" cy="723.2" r="2.2" fill="#a2a5b5"/><circle cx="869.9" cy="728.5" r="2.2" fill="#a2a5b5"/><circle cx="862.1" cy="733.5" r="2.2" fill="#a2a5b5"/><circle cx="853.8" cy="738.2" r="2.2" fill="#a2a5b5"/><circle cx="845.0" cy="742.7" r="2.2" fill="#a2a5b5"/><circle cx="835.8" cy="746.7" r="2.2" fill="#a2a5b5"/><circle cx="826.2" cy="750.5" r="2.2" fill="#a2a5b5"/><circle cx="816.3" cy="753.9" r="2.2" fill="#a2a5b5"/><circle cx="806.0" cy="756.9" r="2.2" fill="#a2a5b5"/><circle cx="795.4" cy="759.6" r="2.2" fill="#a2a5b5"/><circle cx="784.5" cy="761.8" r="2.2" fill="#a2a5b5"/><circle cx="773.5" cy="763.7" r="2.2" fill="#a2a5b5"/><circle cx="762.3" cy="765.1" r="2.2" fill="#a2a5b5"/><circle cx="750.9" cy="766.2" r="2.2" fill="#a2a5b5"/><circle cx="739.5" cy="766.8" r="2.2" fill="#a2a5b5"/><circle cx="728.0" cy="767.0" r="2.2" fill="#a2a5b5"/><circle cx="716.5" cy="766.8" r="2.2" fill="#a2a5b5"/><circle cx="705.1" cy="766.2" r="2.2" fill="#a2a5b5"/><circle cx="693.7" cy="765.1" r="2.2" fill="#a2a5b5"/><circle cx="682.5" cy="763.7" r="2.2" fill="#a2a5b5"/><circle cx="671.5" cy="761.8" r="2.2" fill="#a2a5b5"/><circle cx="660.6" cy="759.6" r="2.2" fill="#a2a5b5"/><circle cx="650.0" cy="756.9" r="2.2" fill="#a2a5b5"/><circle cx="639.7" cy="753.9" r="2.2" fill="#a2a5b5"/><circle cx="629.8" cy="750.5" r="2.2" fill="#a2a5b5"/><circle cx="620.2" cy="746.7" r="2.2" fill="#a2a5b5"/><circle cx="611.0" cy="742.7" r="2.2" fill="#a2a5b5"/><circle cx="602.2" cy="738.2" r="2.2" fill="#a2a5b5"/><circle cx="593.9" cy="733.5" r="2.2" fill="#a2a5b5"/><circle cx="586.1" cy="728.5" r="2.2" fill="#a2a5b5"/><circle cx="578.8" cy="723.2" r="2.2" fill="#a2a5b5"/><circle cx="572.1" cy="717.6" r="2.2" fill="#a2a5b5"/><circle cx="566.0" cy="711.8" r="2.2" fill="#a2a5b5"/><circle cx="560.5" cy="705.8" r="2.2" fill="#a2a5b5"/><circle cx="879.2" cy="709.1" r="2.2" fill="#a2a5b5"/><circle cx="873.3" cy="714.4" r="2.2" fill="#a2a5b5"/><circle cx="866.8" cy="719.5" r="2.2" fill="#a2a5b5"/><circle cx="859.8" cy="724.4" r="2.2" fill="#a2a5b5"/><circle cx="852.4" cy="729.0" r="2.2" fill="#a2a5b5"/><circle cx="844.5" cy="733.3" r="2.2" fill="#a2a5b5"/><circle cx="836.1" cy="737.3" r="2.2" fill="#a2a5b5"/><circle cx="827.4" cy="741.1" r="2.2" fill="#a2a5b5"/><circle cx="818.2" cy="744.5" r="2.2" fill="#a2a5b5"/><circle cx="808.8" cy="747.5" r="2.2" fill="#a2a5b5"/><circle cx="799.0" cy="750.3" r="2.2" fill="#a2a5b5"/><circle cx="789.0" cy="752.6" r="2.2" fill="#a2a5b5"/><circle cx="778.7" cy="754.6" r="2.2" fill="#a2a5b5"/><circle cx="768.3" cy="756.3" r="2.2" fill="#a2a5b5"/><circle cx="757.7" cy="757.5" r="2.2" fill="#a2a5b5"/><circle cx="747.0" cy="758.4" r="2.2" fill="#a2a5b5"/><circle cx="736.2" cy="758.9" r="2.2" fill="#a2a5b5"/><circle cx="725.4" cy="759.0" r="2.2" fill="#a2a5b5"/><circle cx="714.6" cy="758.7" r="2.2" fill="#a2a5b5"/><circle cx="703.8" cy="758.0" r="2.2" fill="#a2a5b5"/><circle cx="693.2" cy="757.0" r="2.2" fill="#a2a5b5"/><circle cx="682.6" cy="755.5" r="2.2" fill="#a2a5b5"/><circle cx="672.3" cy="753.7" r="2.2" fill="#a2a5b5"/><circle cx="662.1" cy="751.5" r="2.2" fill="#a2a5b5"/><circle cx="652.2" cy="749.0" r="2.2" fill="#a2a5b5"/><circle cx="642.6" cy="746.1" r="2.2" fill="#a2a5b5"/><circle cx="633.3" cy="742.9" r="2.2" fill="#a2a5b5"/><circle cx="624.3" cy="739.3" r="2.2" fill="#a2a5b5"/><circle cx="615.8" cy="735.4" r="2.2" fill="#a2a5b5"/><circle cx="607.6" cy="731.2" r="2.2" fill="#a2a5b5"/><circle cx="599.9" cy="726.8" r="2.2" fill="#a2a5b5"/><circle cx="592.7" cy="722.1" r="2.2" fill="#a2a5b5"/><circle cx="586.0" cy="717.1" r="2.2" fill="#a2a5b5"/><circle cx="579.8" cy="711.9" r="2.2" fill="#a2a5b5"/><circle cx="574.2" cy="706.4" r="2.2" fill="#a2a5b5"/>
<path d="M537,560 L537,640 A191,121 0 0 0 919,640 L919,560 Z" fill="url(#blines)"/>
<ellipse cx="728" cy="536" rx="224.5" ry="170.5" fill="#585d70" stroke="#8d92a3" stroke-width="0.8"/>
<ellipse cx="728" cy="523" rx="224.5" ry="170.5" fill="url(#flface)" stroke="#8e93a4" stroke-width="1"/>
<g clip-path="url(#flclip)"><rect x="500" y="350" width="460" height="200" fill="url(#fdots)"/><rect x="500" y="550" width="460" height="150" fill="url(#fdots2)"/></g>
<path d="M690,357 Q728,350 770,357 L768,366 Q728,360 692,366 Z" fill="#5f6477" stroke="#15161c" stroke-width="2.2" stroke-linejoin="round"/>
<ellipse cx="528" cy="592" rx="5" ry="7" fill="#23252f"/>
<ellipse cx="558" cy="632" rx="6" ry="5" fill="#23252f"/>
<ellipse cx="920" cy="596" rx="5" ry="7" fill="#23252f"/>
<ellipse cx="896" cy="630" rx="6" ry="5" fill="#23252f"/>
<path d="M693,371 L764,372 Q771,373 769,380 L752,440 Q751,444 746,444 L709,444 Q704,444 703,440 L686,379 Q685,371 693,371 Z" fill="none" stroke="#6c7185" stroke-width="9" stroke-linejoin="round"/>
<path d="M545,555 L632,536 Q640,535 645,540 L655,558 Q657,563 652,566 L585,617 Q579,621 575,615 L540,565 Q536,558 545,555 Z" fill="none" stroke="#6c7185" stroke-width="9" stroke-linejoin="round"/>
<path d="M820,538 L903,553 Q912,555 916,562 L918,569 Q919,574 916,580 L893,619 Q890,624 884,623 L873,622 Q868,621 864,617 L805,570 Q799,565 805,559 L812,543 Q815,537 820,538 Z" fill="none" stroke="#6c7185" stroke-width="9" stroke-linejoin="round"/>
<path d="M693,371 L764,372 Q771,373 769,380 L752,440 Q751,444 746,444 L709,444 Q704,444 703,440 L686,379 Q685,371 693,371 Z" fill="#1d1d20" stroke="#0c0d12" stroke-width="2"/>
<clipPath id="wc190"><path d="M693,371 L764,372 Q771,373 769,380 L752,440 Q751,444 746,444 L709,444 Q704,444 703,440 L686,379 Q685,371 693,371 Z"/></clipPath>
<g clip-path="url(#wc190)"><rect x="400" y="250" width="660" height="520" fill="url(#wlines)" opacity="0.75" transform="rotate(90 728 500)"/></g>
<path d="M545,555 L632,536 Q640,535 645,540 L655,558 Q657,563 652,566 L585,617 Q579,621 575,615 L540,565 Q536,558 545,555 Z" fill="#1d1d20" stroke="#0c0d12" stroke-width="2"/>
<clipPath id="wc65"><path d="M545,555 L632,536 Q640,535 645,540 L655,558 Q657,563 652,566 L585,617 Q579,621 575,615 L540,565 Q536,558 545,555 Z"/></clipPath>
<g clip-path="url(#wc65)"><rect x="400" y="250" width="660" height="520" fill="url(#wlines)" opacity="0.75" transform="rotate(-35 728 500)"/></g>
<path d="M820,538 L903,553 Q912,555 916,562 L918,569 Q919,574 916,580 L893,619 Q890,624 884,623 L873,622 Q868,621 864,617 L805,570 Q799,565 805,559 L812,543 Q815,537 820,538 Z" fill="#1d1d20" stroke="#0c0d12" stroke-width="2"/>
<clipPath id="wc135"><path d="M820,538 L903,553 Q912,555 916,562 L918,569 Q919,574 916,580 L893,619 Q890,624 884,623 L873,622 Q868,621 864,617 L805,570 Q799,565 805,559 L812,543 Q815,537 820,538 Z"/></clipPath>
<g clip-path="url(#wc135)"><rect x="400" y="250" width="660" height="520" fill="url(#wlines)" opacity="0.75" transform="rotate(35 728 500)"/></g>
<ellipse cx="728.4" cy="515.4" rx="92" ry="73" fill="#6c7185"/>
<ellipse cx="728.4" cy="515.4" rx="87" ry="69" fill="#62677b" stroke="#7b8095" stroke-width="1"/>
<ellipse cx="728.4" cy="515.4" rx="80" ry="63" fill="none" stroke="#72778b" stroke-width="3" opacity="0.6"/>
<ellipse cx="728" cy="512.8" rx="60.6" ry="44" fill="#7e8294"/>
<g clip-path="url(#hubclip)">
<rect x="660" y="465" width="140" height="30" fill="#858a9c"/>
<ellipse cx="728" cy="499" rx="60" ry="9" fill="#15161c"/>
<rect x="667" y="506" width="122" height="60" fill="url(#hubwall)"/>
<ellipse cx="728" cy="506" rx="58" ry="6" fill="#80859a"/>
<ellipse cx="726" cy="557" rx="40" ry="13" fill="#0e0f14"/>
</g>
</g>
<g>
<line x1="666.6" y1="308" x2="666.6" y2="560" stroke="#f4f4f4" stroke-width="1.5" fill="none"/>
<line x1="789" y1="308" x2="789" y2="560" stroke="#f4f4f4" stroke-width="1.5" fill="none"/>
<line x1="672" y1="343" x2="784" y2="343" stroke="#f4f4f4" stroke-width="1.5" fill="none"/>
<path d="M666.6,343 l8,-4.5 v9 Z M789,343 l-8,-4.5 v9 Z" fill="#f4f4f4"/>
<line x1="444.6" y1="526" x2="515" y2="526" stroke="#f4f4f4" stroke-width="1.5" fill="none"/>
<line x1="440" y1="663.4" x2="530" y2="663.4" stroke="#f4f4f4" stroke-width="1.5" fill="none"/>
<line x1="457" y1="532" x2="457" y2="581" stroke="#f4f4f4" stroke-width="1.5" fill="none"/>
<line x1="457" y1="613" x2="457" y2="657" stroke="#f4f4f4" stroke-width="1.5" fill="none"/>
<path d="M457,526 l-4.5,8 h9 Z M457,663.4 l-4.5,-8 h9 Z" fill="#f4f4f4"/>
<line x1="520.6" y1="625" x2="520.6" y2="834" stroke="#f4f4f4" stroke-width="1.5" fill="none"/>
<line x1="942.7" y1="625" x2="942.7" y2="834" stroke="#f4f4f4" stroke-width="1.5" fill="none"/>
<line x1="526" y1="795" x2="937" y2="795" stroke="#f4f4f4" stroke-width="1.5" fill="none"/>
<path d="M520.6,795 l8,-4.5 v9 Z M942.7,795 l-8,-4.5 v9 Z" fill="#f4f4f4"/>
<text x="695" y="331.4" font-size="27" font-weight="bold" fill="#fff" textLength="71" lengthAdjust="spacingAndGlyphs">55mm</text>
<text x="414.5" y="604.6" font-size="27" font-weight="bold" fill="#fff" textLength="71" lengthAdjust="spacingAndGlyphs">68mm</text>
<text x="689" y="829.4" font-size="27" font-weight="bold" fill="#fff" textLength="86" lengthAdjust="spacingAndGlyphs">200mm</text>
</g>
<text x="56" y="101" font-size="87" font-weight="bold" fill="#fff" textLength="769" lengthAdjust="spacingAndGlyphs">Reel Conversion and</text>
<text x="56" y="180" font-size="87" font-weight="bold" fill="#fff" textLength="598" lengthAdjust="spacingAndGlyphs">Packaging Sizes</text>
<rect x="166" y="871" width="1042" height="526" rx="24" fill="#28adb8"/>
<path d="M180,1069 V913 A13,13 0 0 1 193,900 H499 A13,13 0 0 1 512,913 V1069 Z" fill="#f7f7f7"/>
<circle cx="208.3" cy="928.3" r="16.6" fill="#22a6b0"/>
<text x="208.6" y="936.9" font-size="24" font-weight="bold" fill="#e2fdff" text-anchor="middle">1</text>
<text x="194.8" y="1093.3" font-size="19.3" fill="#e4fbfb" stroke="#e4fbfb" stroke-width="0.75" textLength="271.9" lengthAdjust="spacingAndGlyphs">Insert straps through spool holes</text>
<path d="M196.3,1107.0 H212.0" stroke="#e4fbfb" stroke-width="2.2" stroke-linecap="round"/>
<path d="M207.0,1102.0 L212.5,1107.0 L207.0,1112.0" fill="none" stroke="#e4fbfb" stroke-width="2.2" stroke-linecap="round" stroke-linejoin="round"/>
<text x="217.5" y="1113.6" font-size="19.3" fill="#e4fbfb" stroke="#e4fbfb" stroke-width="0.75" textLength="75.5" lengthAdjust="spacingAndGlyphs">Peel tape</text>
<path d="M299.3,1107.0 H315.0" stroke="#e4fbfb" stroke-width="2.2" stroke-linecap="round"/>
<path d="M310.0,1102.0 L315.5,1107.0 L310.0,1112.0" fill="none" stroke="#e4fbfb" stroke-width="2.2" stroke-linecap="round" stroke-linejoin="round"/>
<text x="323.2" y="1113.6" font-size="19.3" fill="#e4fbfb" stroke="#e4fbfb" stroke-width="0.75" textLength="147.5" lengthAdjust="spacingAndGlyphs">Tighten and align.</text>
<path d="M521,1069 V913 A13,13 0 0 1 534,900 H839 A13,13 0 0 1 852,913 V1069 Z" fill="#f7f7f7"/>
<circle cx="549.3" cy="928.3" r="16.6" fill="#22a6b0"/>
<text x="549.6" y="936.9" font-size="24" font-weight="bold" fill="#e2fdff" text-anchor="middle">2</text>
<text x="527.1" y="1094.0" font-size="19.3" fill="#e4fbfb" stroke="#e4fbfb" stroke-width="0.75" textLength="259.4" lengthAdjust="spacingAndGlyphs">Rotate spool counterclockwise</text>
<path d="M528.4,1107.7 H544.3" stroke="#e4fbfb" stroke-width="2.2" stroke-linecap="round"/>
<path d="M539.3,1102.7 L544.8,1107.7 L539.3,1112.7" fill="none" stroke="#e4fbfb" stroke-width="2.2" stroke-linecap="round" stroke-linejoin="round"/>
<text x="550.8" y="1114.3" font-size="19.3" fill="#e4fbfb" stroke="#e4fbfb" stroke-width="0.75" textLength="177.7" lengthAdjust="spacingAndGlyphs">Remove old filament.</text>
<path d="M864,1069 V913 A13,13 0 0 1 877,900 H1183 A13,13 0 0 1 1196,913 V1069 Z" fill="#f7f7f7"/>
<circle cx="892.3" cy="928.3" r="16.6" fill="#22a6b0"/>
<text x="892.6" y="936.9" font-size="24" font-weight="bold" fill="#e2fdff" text-anchor="middle">3</text>
<text x="871.8" y="1093.0" font-size="19.3" fill="#e4fbfb" stroke="#e4fbfb" stroke-width="0.75" textLength="269.9" lengthAdjust="spacingAndGlyphs">Match refill hole with hub notch</text>
<path d="M873.1,1106.7 H888.5" stroke="#e4fbfb" stroke-width="2.2" stroke-linecap="round"/>
<path d="M883.5,1101.7 L889.0,1106.7 L883.5,1111.7" fill="none" stroke="#e4fbfb" stroke-width="2.2" stroke-linecap="round" stroke-linejoin="round"/>
<text x="894.8" y="1113.3" font-size="19.3" fill="#e4fbfb" stroke="#e4fbfb" stroke-width="0.75" textLength="159.8" lengthAdjust="spacingAndGlyphs">Snap into position.</text>
<path d="M180,1312 V1156 A13,13 0 0 1 193,1143 H499 A13,13 0 0 1 512,1156 V1312 Z" fill="#f7f7f7"/>
<circle cx="208.3" cy="1171.3" r="16.6" fill="#22a6b0"/>
<text x="208.6" y="1179.9" font-size="24" font-weight="bold" fill="#e2fdff" text-anchor="middle">4</text>
<text x="194.8" y="1334.0" font-size="19.3" fill="#e4fbfb" stroke="#e4fbfb" stroke-width="0.75" textLength="188.8" lengthAdjust="spacingAndGlyphs">Align triangular marks</text>
<path d="M196.1,1347.7 H212.0" stroke="#e4fbfb" stroke-width="2.2" stroke-linecap="round"/>
<path d="M207.0,1342.7 L212.5,1347.7 L207.0,1352.7" fill="none" stroke="#e4fbfb" stroke-width="2.2" stroke-linecap="round" stroke-linejoin="round"/>
<text x="218.5" y="1354.3" font-size="19.3" fill="#e4fbfb" stroke="#e4fbfb" stroke-width="0.75" textLength="181.8" lengthAdjust="spacingAndGlyphs">Press sides until click.</text>
<path d="M521,1312 V1156 A13,13 0 0 1 534,1143 H839 A13,13 0 0 1 852,1156 V1312 Z" fill="#f7f7f7"/>
<circle cx="549.3" cy="1171.3" r="16.6" fill="#22a6b0"/>
<text x="549.6" y="1179.9" font-size="24" font-weight="bold" fill="#e2fdff" text-anchor="middle">5</text>
<text x="530.7" y="1339.0" font-size="19.3" fill="#e4fbfb" stroke="#e4fbfb" stroke-width="0.75" textLength="286.0" lengthAdjust="spacingAndGlyphs">Rotate clockwise with both hands</text>
<path d="M532.0,1352.7 H547.0" stroke="#e4fbfb" stroke-width="2.2" stroke-linecap="round"/>
<path d="M542.0,1347.7 L547.5,1352.7 L542.0,1357.7" fill="none" stroke="#e4fbfb" stroke-width="2.2" stroke-linecap="round" stroke-linejoin="round"/>
<text x="554.8" y="1359.3" font-size="19.3" fill="#e4fbfb" stroke="#e4fbfb" stroke-width="0.75" textLength="140.0" lengthAdjust="spacingAndGlyphs">Feel secure click.</text>
<path d="M864,1312 V1156 A13,13 0 0 1 877,1143 H1183 A13,13 0 0 1 1196,1156 V1312 Z" fill="#f7f7f7"/>
<circle cx="892.3" cy="1171.3" r="16.6" fill="#22a6b0"/>
<text x="892.6" y="1179.9" font-size="24" font-weight="bold" fill="#e2fdff" text-anchor="middle">6</text>
<text x="873.9" y="1336.0" font-size="19.3" fill="#e4fbfb" stroke="#e4fbfb" stroke-width="0.75" textLength="124.7" lengthAdjust="spacingAndGlyphs">Remove straps</text>
<path d="M875.2,1349.7 H890.0" stroke="#e4fbfb" stroke-width="2.2" stroke-linecap="round"/>
<path d="M885.0,1344.7 L890.5,1349.7 L885.0,1354.7" fill="none" stroke="#e4fbfb" stroke-width="2.2" stroke-linecap="round" stroke-linejoin="round"/>
<text x="896.9" y="1356.3" font-size="19.3" fill="#e4fbfb" stroke="#e4fbfb" stroke-width="0.75" textLength="263.6" lengthAdjust="spacingAndGlyphs">Apply label to designated area.</text>
<defs>
<pattern id="xh" width="3.2" height="3.2" patternUnits="userSpaceOnUse"><circle cx="1.6" cy="1.6" r="0.68" fill="#9a9a9a"/></pattern>
<pattern id="hh" width="4" height="2.6" patternUnits="userSpaceOnUse"><rect width="4" height="0.9" fill="#8a8a8a"/></pattern>
<pattern id="vh" width="2.6" height="4" patternUnits="userSpaceOnUse"><rect width="0.9" height="4" fill="#8a8a8a"/></pattern>
<marker id="tah" viewBox="0 0 10 10" refX="5" refY="5" markerWidth="3.2" markerHeight="3.2" orient="auto-start-reverse"><path d="M0,0 L10,5 L0,10 Z" fill="#1f9aa6"/></marker>
</defs>
<ellipse cx="298.5" cy="994.0" rx="41.0" ry="64.7" fill="#fafafa" stroke="#3c3c3c" stroke-width="1.1"/>
<ellipse cx="298.5" cy="994.0" rx="36.9" ry="59.5" fill="url(#xh)" stroke="#777" stroke-width="0.6"/>
<polygon points="287.0,937.1 310.0,937.1 304.2,971.4 292.8,971.4" fill="#f7f7f7" stroke="#3c3c3c" stroke-width="0.9" stroke-linejoin="round"/>
<polygon points="266.5,1008.2 280.1,1001.8 290.3,1023.1 278.0,1036.7" fill="#f7f7f7" stroke="#3c3c3c" stroke-width="0.9" stroke-linejoin="round"/>
<polygon points="330.5,1008.2 316.9,1001.8 306.7,1023.1 319.0,1036.7" fill="#6a6a6a" stroke="#3c3c3c" stroke-width="0.9" stroke-linejoin="round"/>
<rect x="288.2" y="1027.6" width="20.5" height="17.5" fill="#fafafa"/>
<ellipse cx="298.5" cy="994.0" rx="14.8" ry="23.3" fill="#a3a3a3" stroke="#3c3c3c" stroke-width="0.8"/>
<ellipse cx="299.3" cy="994.0" rx="9.0" ry="16.8" fill="#fafafa" stroke="#3c3c3c" stroke-width="0.9"/>
<rect x="292" y="940" width="9" height="24" rx="2" fill="#fdfdfd" stroke="#3c3c3c" stroke-width="0.8"/>
<rect x="338" y="1020" width="10" height="6" fill="#fafafa" stroke="#555" stroke-width="0.7" transform="rotate(20 343 1023)"/>
<ellipse cx="392.5" cy="994.0" rx="42.0" ry="64.7" fill="#fafafa" stroke="#3c3c3c" stroke-width="1.1"/>
<ellipse cx="392.5" cy="994.0" rx="37.8" ry="59.5" fill="url(#xh)" stroke="#777" stroke-width="0.6"/>
<polygon points="380.7,937.1 404.3,937.1 398.4,971.4 386.6,971.4" fill="#f7f7f7" stroke="#3c3c3c" stroke-width="0.9" stroke-linejoin="round"/>
<polygon points="359.7,1008.2 373.6,1001.8 384.1,1023.1 371.5,1036.7" fill="#f7f7f7" stroke="#3c3c3c" stroke-width="0.9" stroke-linejoin="round"/>
<polygon points="425.3,1008.2 411.4,1001.8 400.9,1023.1 413.5,1036.7" fill="#f7f7f7" stroke="#3c3c3c" stroke-width="0.9" stroke-linejoin="round"/>
<rect x="382.0" y="1027.6" width="21.0" height="17.5" fill="#fafafa"/>
<path d="M364,972 H384 A12,26 0 0 1 384,1020 H364 Z" fill="#fbfbfb" stroke="#3c3c3c" stroke-width="1"/>
<ellipse cx="364.5" cy="996" rx="12" ry="24" fill="#fdfdfd" stroke="#3c3c3c" stroke-width="1"/>
<ellipse cx="365" cy="996" rx="8" ry="18" fill="none" stroke="#777" stroke-width="0.7"/>
<circle cx="335.6" cy="953.0" r="26.3" fill="#fbfbfb" stroke="#2e2e2e" stroke-width="1.3"/><clipPath id="z1"><circle cx="335.6" cy="953" r="25.6"/></clipPath><g clip-path="url(#z1)"><path d="M318,927 L332,968 M328,927 L340,968" stroke="#333" stroke-width="1"/><rect x="340" y="940" width="24" height="26" fill="url(#hh)"/><path d="M341,935 L339,968" stroke="#333" stroke-width="1"/></g>
<path d="M320,968 Q330,975 343,970" fill="none" stroke="#1f9aa6" stroke-width="3.2" marker-end="url(#tah)"/>
<ellipse cx="647.8" cy="986.9" rx="16.4" ry="66.9" fill="#fafafa" stroke="#3c3c3c" stroke-width="1.1"/>
<ellipse cx="647.8" cy="986.9" rx="14.8" ry="61.5" fill="url(#vh)" stroke="#777" stroke-width="0.6"/>
<ellipse cx="652" cy="990" rx="14" ry="33" fill="#d9d9d9" stroke="#3c3c3c" stroke-width="0.9"/>
<ellipse cx="652" cy="990" rx="14" ry="33" fill="url(#hh)"/>
<ellipse cx="657" cy="990" rx="6" ry="26" fill="#f4f4f4" stroke="#555" stroke-width="0.8"/>
<rect x="639" y="1004" width="24" height="3" fill="#fafafa" stroke="#666" stroke-width="0.5"/>
<rect x="644" y="940" width="7" height="24" rx="3" fill="#fafafa" stroke="#555" stroke-width="0.7"/>
<path d="M688,966 H700 V1010 H688 A7,22 0 0 1 688,966 Z" fill="#fbfbfb" stroke="#3c3c3c" stroke-width="0.9"/>
<ellipse cx="718.2" cy="986.9" rx="15.8" ry="67.0" fill="#fafafa" stroke="#3c3c3c" stroke-width="1.1"/>
<ellipse cx="718.2" cy="986.9" rx="14.2" ry="61.6" fill="url(#vh)" stroke="#777" stroke-width="0.6"/>
<ellipse cx="718" cy="980" rx="5" ry="18" fill="#fafafa" stroke="#444" stroke-width="0.8"/>
<rect x="714" y="936" width="7" height="24" rx="3" fill="#fafafa" stroke="#555" stroke-width="0.7"/>
<rect x="711" y="1028" width="14" height="16" fill="#fafafa"/>
<path d="M634,930 Q634,916 646,911" fill="none" stroke="#1f9aa6" stroke-width="3.2" marker-end="url(#tah)"/>
<path d="M672,1017 H684" fill="none" stroke="#1f9aa6" stroke-width="3.6" marker-end="url(#tah)"/>
<path d="M700,1044 Q700,1056 710,1061" fill="none" stroke="#1f9aa6" stroke-width="3.2" marker-end="url(#tah)"/>
<ellipse cx="988.8" cy="993.0" rx="40.0" ry="61.2" fill="#fafafa" stroke="#3c3c3c" stroke-width="1.1"/>
<ellipse cx="988.8" cy="993.0" rx="36.0" ry="56.3" fill="url(#xh)" stroke="#777" stroke-width="0.6"/>
<polygon points="977.6,939.1 1000.0,939.1 994.4,971.6 983.2,971.6" fill="#f7f7f7" stroke="#3c3c3c" stroke-width="0.9" stroke-linejoin="round"/>
<polygon points="957.6,1006.5 970.8,1000.3 980.8,1020.5 968.8,1033.4" fill="#f7f7f7" stroke="#3c3c3c" stroke-width="0.9" stroke-linejoin="round"/>
<polygon points="1020.0,1006.5 1006.8,1000.3 996.8,1020.5 1008.8,1033.4" fill="#f7f7f7" stroke="#3c3c3c" stroke-width="0.9" stroke-linejoin="round"/>
<path d="M995,964 H1010 A14,29 0 0 1 1010,1022 H995 Z" fill="#fbfbfb" stroke="#3c3c3c" stroke-width="1"/>
<ellipse cx="998" cy="993" rx="14" ry="29" fill="#fdfdfd" stroke="#3c3c3c" stroke-width="1"/>
<ellipse cx="999" cy="993" rx="8" ry="19" fill="#fafafa" stroke="#666" stroke-width="0.8"/>
<path d="M1030,940 H1075 A22,55 0 0 1 1075,1050 H1030 Z" fill="#f2f2f2" stroke="#555" stroke-width="0.9"/>
<path d="M1030,940 H1075 A22,55 0 0 1 1075,1050 H1030 Z" fill="url(#hh)" opacity="0.7"/>
<ellipse cx="1030" cy="995" rx="24" ry="55" fill="#f6f6f6" stroke="#555" stroke-width="0.9"/>
<ellipse cx="1030" cy="995" rx="24" ry="55" fill="url(#hh)" opacity="0.55"/>
<rect x="1047" y="940" width="5" height="110" fill="#fafafa" stroke="#777" stroke-width="0.5"/>
<ellipse cx="1052" cy="996" rx="15" ry="24" fill="#fdfdfd" stroke="#3c3c3c" stroke-width="1"/>
<circle cx="950.0" cy="975.3" r="27.3" fill="#fbfbfb" stroke="#2e2e2e" stroke-width="1.3"/><clipPath id="z3"><circle cx="950" cy="975.3" r="26.6"/></clipPath><g clip-path="url(#z3)"><path d="M922,985 Q950,975 980,968" stroke="#333" stroke-width="1" fill="none"/><rect x="935" y="962" width="9" height="8" fill="none" stroke="#333" stroke-width="0.9"/><path d="M940,1002 Q955,988 978,990" stroke="#333" stroke-width="0.9" fill="none"/></g>
<path d="M969,967 H960" fill="none" stroke="#1f9aa6" stroke-width="3.8" marker-end="url(#tah)"/>
<circle cx="1092.4" cy="976.5" r="27.0" fill="#fbfbfb" stroke="#2e2e2e" stroke-width="1.3"/><clipPath id="z3b"><circle cx="1092.4" cy="976.5" r="26.3"/></clipPath><g clip-path="url(#z3b)"><path d="M1064,975 Q1090,958 1120,968 M1066,982 Q1090,965 1120,975" stroke="#333" stroke-width="1" fill="none"/><rect x="1094" y="962" width="4" height="5" fill="none" stroke="#333" stroke-width="0.8"/></g>
<path d="M1097,992 V982" fill="none" stroke="#1f9aa6" stroke-width="3.8" marker-end="url(#tah)"/>
<ellipse cx="313.0" cy="1238.4" rx="18.8" ry="66.5" fill="#fafafa" stroke="#3c3c3c" stroke-width="1.1"/>
<ellipse cx="313.0" cy="1238.4" rx="16.9" ry="61.2" fill="url(#hh)" stroke="#777" stroke-width="0.6"/>
<rect x="306" y="1190" width="10" height="26" rx="4" fill="#fafafa" stroke="#555" stroke-width="0.8"/>
<path d="M318.0,1187.5 H362.0 A7.9,49.0 0 0 1 362.0,1285.5 H318.0 Z" fill="#e6e6e6" stroke="#3c3c3c" stroke-width="1"/>
<path d="M318.0,1187.5 H362.0 A7.9,49.0 0 0 1 362.0,1285.5 H318.0 Z" fill="url(#vh)"/>
<path d="M342.2,1187.5 H362.0 A7.9,49.0 0 0 1 362.0,1285.5 H342.2 Z" fill="#707070" opacity="0.55"/>
<ellipse cx="318" cy="1236.5" rx="10" ry="49" fill="#ededed" stroke="#3c3c3c" stroke-width="0.9"/>
<path d="M318,1208 H355 M318,1264 H355" stroke="#fafafa" stroke-width="4"/>
<rect x="364" y="1198" width="14" height="80" rx="6" fill="#f8f8f8" stroke="#555" stroke-width="0.8"/>
<ellipse cx="406.0" cy="1239.5" rx="17.7" ry="66.0" fill="#fafafa" stroke="#3c3c3c" stroke-width="1.1"/>
<ellipse cx="406.0" cy="1239.5" rx="15.9" ry="60.7" fill="url(#hh)" stroke="#777" stroke-width="0.6"/>
<ellipse cx="406" cy="1239" rx="6" ry="17" fill="#fafafa" stroke="#444" stroke-width="0.8"/>
<polygon points="399,1200 413,1200 409,1222 403,1222" fill="#fafafa" stroke="#555" stroke-width="0.7"/>
<circle cx="277.7" cy="1186.6" r="27.3" fill="#fbfbfb" stroke="#2e2e2e" stroke-width="1.3"/><clipPath id="z4"><circle cx="277.7" cy="1186.6" r="26.6"/></clipPath><g clip-path="url(#z4)"><path d="M250,1190 Q278,1181 306,1190" stroke="#333" stroke-width="1" fill="none"/><path d="M250,1190 Q278,1181 306,1190 V1215 H250 Z" fill="url(#xh)"/><circle cx="277" cy="1186" r="1.5" fill="#222"/></g>
<path d="M277,1165 V1178" fill="none" stroke="#1f9aa6" stroke-width="3.8" marker-end="url(#tah)"/>
<circle cx="369.5" cy="1186.6" r="27.0" fill="#fbfbfb" stroke="#2e2e2e" stroke-width="1.3"/><clipPath id="z4b"><circle cx="369.5" cy="1186.6" r="26.3"/></clipPath><g clip-path="url(#z4b)"><path d="M342,1190 Q370,1181 397,1190" stroke="#333" stroke-width="1" fill="none"/><path d="M375,1189 L397,1189 V1215 H375 Z" fill="url(#xh)"/><circle cx="369" cy="1185" r="1.5" fill="#222"/><path d="M358,1189 h10 v10 h-10 Z" fill="none" stroke="#555" stroke-width="0.8"/></g>
<path d="M368,1164 V1177" fill="none" stroke="#1f9aa6" stroke-width="3.8" marker-end="url(#tah)"/>
<path d="M386,1264 H375" fill="none" stroke="#1f9aa6" stroke-width="3.8" marker-end="url(#tah)"/>
<ellipse cx="658.3" cy="1227.5" rx="17.6" ry="67.5" fill="#fafafa" stroke="#3c3c3c" stroke-width="1.1"/>
<ellipse cx="658.3" cy="1227.5" rx="15.8" ry="62.1" fill="url(#hh)" stroke="#777" stroke-width="0.6"/>
<path d="M655.0,1173.5 H702.0 A8.5,54.0 0 0 1 702.0,1281.5 H655.0 Z" fill="#ececec" stroke="#3c3c3c" stroke-width="1"/>
<path d="M655.0,1173.5 H702.0 A8.5,54.0 0 0 1 702.0,1281.5 H655.0 Z" fill="url(#vh)"/>
<path d="M655,1199 H695 M655,1256 H695" stroke="#fafafa" stroke-width="4"/>
<ellipse cx="706.4" cy="1227.5" rx="19.4" ry="67.5" fill="#fafafa" stroke="#3c3c3c" stroke-width="1.1"/>
<ellipse cx="706.4" cy="1227.5" rx="17.5" ry="62.1" fill="url(#hh)" stroke="#777" stroke-width="0.6"/>
<ellipse cx="706" cy="1228" rx="5" ry="15" fill="#fafafa" stroke="#444" stroke-width="0.8"/>
<polygon points="702,1170 711,1170 709,1210 704,1210" fill="#e9e9e9" stroke="#555" stroke-width="0.7"/>
<polygon points="694,1240 700,1240 702,1262 695,1262" fill="#777"/><polygon points="712,1240 718,1240 717,1262 710,1262" fill="#777"/>
<rect x="700" y="1262" width="12" height="14" fill="#fafafa"/>
<text x="741.5" y="1172" font-size="11.5" font-weight="bold" fill="#1a1a1a" textLength="34" lengthAdjust="spacingAndGlyphs">CLICK</text>
<path d="M733,1160 L729,1169 L736,1171 Z M729,1174 L738,1179 L737,1173 Z" fill="#111"/>
<path d="M657,1156 Q638,1162 636,1182" fill="none" stroke="#1f9aa6" stroke-width="3.6" marker-end="url(#tah)"/>
<path d="M698,1303 Q694,1284 680,1275" fill="none" stroke="#1f9aa6" stroke-width="3.6" marker-end="url(#tah)"/>
<ellipse cx="985.3" cy="1230.0" rx="17.7" ry="67.0" fill="#fafafa" stroke="#3c3c3c" stroke-width="1.1"/>
<ellipse cx="985.3" cy="1230.0" rx="15.9" ry="61.6" fill="url(#hh)" stroke="#777" stroke-width="0.6"/>
<path d="M982.0,1174.0 H1027.0 A8.1,56.0 0 0 1 1027.0,1286.0 H982.0 Z" fill="#ececec" stroke="#3c3c3c" stroke-width="1"/>
<path d="M982.0,1174.0 H1027.0 A8.1,56.0 0 0 1 1027.0,1286.0 H982.0 Z" fill="url(#vh)"/>
<path d="M978,1195 H1022" stroke="#fafafa" stroke-width="4"/>
<path d="M993,1190 L1000,1198" stroke="#555" stroke-width="1"/>
<ellipse cx="1031.2" cy="1230.0" rx="20.6" ry="67.0" fill="#fafafa" stroke="#3c3c3c" stroke-width="1.1"/>
<ellipse cx="1031.2" cy="1230.0" rx="18.5" ry="61.6" fill="url(#hh)" stroke="#777" stroke-width="0.6"/>
<ellipse cx="1031" cy="1230" rx="5" ry="15" fill="#fafafa" stroke="#444" stroke-width="0.8"/>
<polygon points="1027,1170 1036,1170 1034,1210 1029,1210" fill="#e9e9e9" stroke="#555" stroke-width="0.7"/>
<polygon points="1018,1244 1024,1244 1025,1262 1019,1262" fill="#777"/>
<path d="M994,1186 Q1012,1180 1012,1163" fill="none" stroke="#1f9aa6" stroke-width="4.0" marker-end="url(#tah)"/>
<circle cx="1067.7" cy="1247.8" r="34.1" fill="#fbfbfb" stroke="#2e2e2e" stroke-width="1.3"/><clipPath id="z6"><circle cx="1067.7" cy="1247.8" r="33.4"/></clipPath><g clip-path="url(#z6)"><path d="M1033,1233 Q1068,1245 1102,1230" stroke="#333" stroke-width="1" fill="none"/><path d="M1056,1220 v7 h24 v-7" stroke="#333" stroke-width="1" fill="none"/><rect x="1046.5" y="1251" width="41" height="21" rx="3" fill="#fafafa" stroke="#333" stroke-width="1"/><rect x="1050" y="1261" width="34" height="7" fill="url(#vh)"/><rect x="1050" y="1254" width="34" height="2" fill="#999"/></g>
<path d="M1068,1250 V1238" fill="none" stroke="#1f9aa6" stroke-width="4.0" marker-end="url(#tah)"/>
</svg></body></html>
